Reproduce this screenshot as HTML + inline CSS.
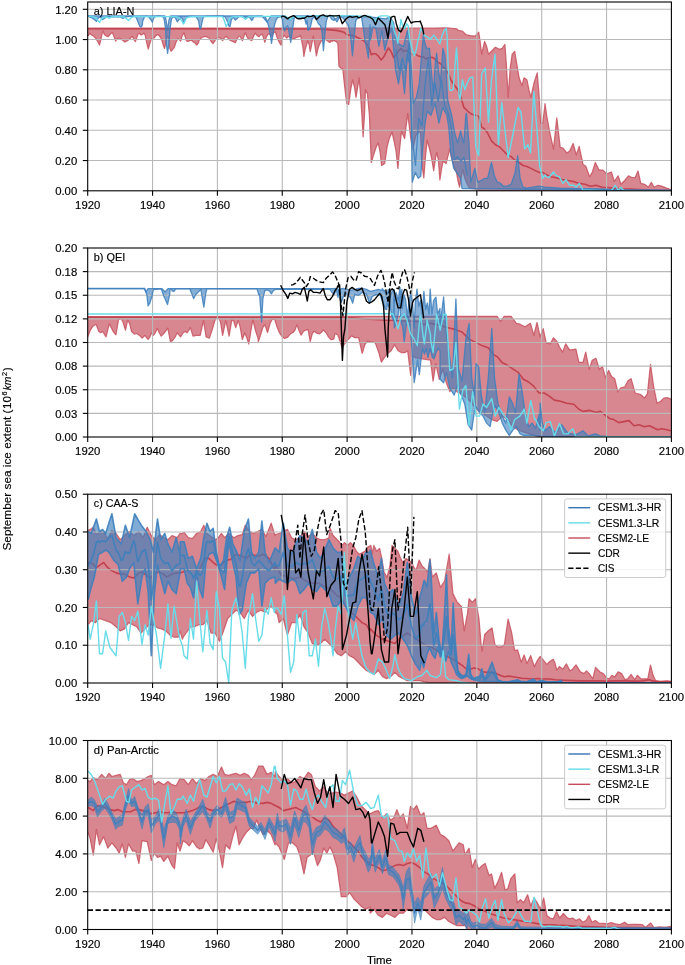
<!DOCTYPE html>
<html><head><meta charset="utf-8"><style>
html,body{margin:0;padding:0;background:#fff;}
svg{display:block;will-change:transform;font-family:"Liberation Sans",sans-serif;font-size:10.2px;}
text{stroke:#000;stroke-width:0.15px;}
</style></head><body>
<svg width="685" height="965" viewBox="0 0 685 965">
<rect width="685" height="965" fill="#ffffff"/>
<clipPath id="clipa"><rect x="87.7" y="2.0" width="583.6999999999999" height="188.8"/></clipPath>
<g clip-path="url(#clipa)"><polygon points="87.7,28.2 300.0,28.2 415.0,28.2 425.4,28.0 435.7,28.0 446.1,27.8 449.2,28.0 456.5,28.8 458.5,30.4 462.7,31.4 465.8,34.5 469.9,35.6 475.0,36.1 476.7,34.5 478.7,32.2 479.7,38.5 481.7,54.2 484.6,41.4 486.6,46.3 488.5,54.2 491.5,51.3 495.4,47.3 499.4,49.3 502.3,48.3 504.9,44.4 506.3,64.1 508.2,97.5 510.2,68.0 512.2,54.2 514.7,51.3 516.1,60.1 519.1,77.8 522.0,85.7 524.0,77.8 526.9,79.8 528.9,89.7 530.9,97.5 533.8,83.8 537.2,72.9 538.8,91.6 540.7,123.1 542.7,123.1 544.7,107.4 545.0,103.6 546.9,116.9 549.7,132.1 553.5,149.2 556.8,117.9 560.2,147.3 563.0,148.2 566.8,153.0 569.7,151.1 573.1,143.5 576.3,154.9 579.2,146.4 583.0,164.4 585.8,166.3 589.6,176.7 592.4,172.0 595.3,162.5 599.1,170.1 602.9,170.1 606.7,173.9 611.4,172.0 614.3,181.5 618.1,175.8 620.9,184.3 624.7,180.5 628.5,175.8 632.3,177.7 635.1,177.7 638.0,171.0 640.8,183.4 644.6,184.3 648.4,187.2 651.3,182.4 654.1,187.2 657.9,185.3 661.7,186.2 666.5,188.1 669.3,189.1 671.2,190.0 671.4,190.8 480.0,190.8 475.0,188.8 471.0,188.3 468.9,187.2 466.8,183.1 464.7,177.9 462.7,169.6 461.1,177.9 459.6,187.2 458.0,181.0 456.5,172.7 454.4,167.5 451.3,157.2 449.7,148.9 448.2,155.1 446.1,163.4 443.0,161.3 441.4,169.6 439.9,180.0 438.3,159.2 436.8,152.5 435.7,157.2 433.7,170.6 431.6,158.2 429.5,148.9 427.2,140.1 425.4,157.2 423.8,177.9 421.7,162.4 420.5,131.0 416.0,135.0 412.5,150.0 410.8,138.5 407.7,113.7 404.6,138.5 401.5,131.3 399.5,150.0 397.9,168.4 396.0,150.7 394.0,140.9 392.0,132.0 389.1,138.9 387.1,146.8 384.7,163.5 381.6,165.5 380.2,152.7 378.2,142.8 376.3,146.8 373.7,154.6 371.3,162.5 369.4,115.3 367.4,93.6 365.4,89.7 364.5,115.3 363.1,136.9 361.9,115.3 360.5,93.6 359.1,77.8 357.6,87.7 356.0,97.5 354.6,87.7 352.6,79.8 350.7,89.7 348.7,104.4 346.7,103.4 344.8,87.7 342.8,69.0 340.8,68.0 338.9,66.0 337.9,43.4 335.9,41.4 333.9,40.4 332.0,41.4 331.4,40.2 330.0,42.4 329.4,42.3 327.3,40.8 325.2,39.2 323.1,39.2 321.1,41.3 319.5,44.4 318.0,48.5 316.4,55.8 314.8,44.4 313.3,36.1 311.7,44.4 310.2,51.6 309.1,44.2 307.8,40.7 306.5,45.0 305.2,49.4 303.9,56.4 303.0,47.7 301.7,40.7 300.4,35.4 299.1,36.7 297.3,37.2 295.5,38.0 293.8,39.3 292.0,38.0 290.3,37.2 288.5,36.3 286.8,38.0 285.0,36.3 283.7,35.4 282.4,38.9 281.1,45.0 279.8,43.3 278.0,39.8 276.7,36.3 275.4,31.9 273.6,32.8 271.9,36.3 270.1,34.5 268.8,33.6 267.5,35.0 266.2,37.2 264.9,42.4 263.6,38.0 262.3,34.1 260.5,35.0 258.8,36.7 257.0,35.4 255.3,33.2 253.7,35.8 253.5,36.3 251.9,40.2 251.8,40.7 250.2,39.8 248.4,38.9 246.7,36.3 245.4,32.8 244.1,35.8 242.3,40.7 240.1,36.3 238.8,36.3 237.0,38.9 235.3,42.8 232.7,41.5 230.0,40.2 227.8,38.0 226.1,36.3 224.3,38.0 222.6,40.7 220.4,38.0 218.2,37.6 216.5,38.0 214.7,41.1 213.0,43.7 211.2,41.5 209.0,38.0 206.4,36.7 203.8,36.7 201.1,38.0 198.9,40.7 198.7,42.4 196.9,45.0 196.8,45.0 195.2,43.3 193.4,42.0 191.7,40.2 189.9,40.7 187.7,41.5 186.4,40.7 185.1,36.3 183.8,32.8 182.0,36.3 180.7,41.1 179.4,39.8 177.7,38.9 175.9,42.4 174.6,46.8 172.8,49.4 171.1,51.2 169.8,48.5 168.5,37.2 167.2,36.3 165.8,43.3 164.5,48.5 163.2,45.0 161.5,38.9 159.7,36.3 158.0,34.5 156.2,35.4 154.0,38.0 152.3,38.0 150.9,40.2 149.6,44.2 148.3,49.0 146.6,42.4 145.3,35.4 143.9,33.2 142.8,34.1 141.1,35.0 139.3,33.2 138.0,34.1 136.7,38.0 135.4,41.5 134.1,39.8 132.3,36.3 130.5,38.0 128.8,39.8 126.6,41.1 124.9,42.0 122.7,40.2 120.9,38.9 118.7,38.0 117.0,38.9 115.7,41.1 113.9,36.3 112.2,32.3 110.0,34.5 108.2,36.7 106.0,35.8 104.3,34.5 103.0,31.0 102.1,33.6 100.8,39.8 99.5,45.0 97.7,41.5 95.5,38.0 93.8,36.3 91.6,35.0 89.8,33.2 88.5,35.4 87.2,35.4" fill="#c64e5c" fill-opacity="0.68" stroke="#c64e5c" stroke-opacity="0.68" stroke-width="0.01" stroke-linejoin="round"/><polyline points="87.7,28.2 300.0,28.2 415.0,28.2 425.4,28.0 435.7,28.0 446.1,27.8 449.2,28.0 456.5,28.8 458.5,30.4 462.7,31.4 465.8,34.5 469.9,35.6 475.0,36.1 476.7,34.5 478.7,32.2 479.7,38.5 481.7,54.2 484.6,41.4 486.6,46.3 488.5,54.2 491.5,51.3 495.4,47.3 499.4,49.3 502.3,48.3 504.9,44.4 506.3,64.1 508.2,97.5 510.2,68.0 512.2,54.2 514.7,51.3 516.1,60.1 519.1,77.8 522.0,85.7 524.0,77.8 526.9,79.8 528.9,89.7 530.9,97.5 533.8,83.8 537.2,72.9 538.8,91.6 540.7,123.1 542.7,123.1 544.7,107.4 545.0,103.6 546.9,116.9 549.7,132.1 553.5,149.2 556.8,117.9 560.2,147.3 563.0,148.2 566.8,153.0 569.7,151.1 573.1,143.5 576.3,154.9 579.2,146.4 583.0,164.4 585.8,166.3 589.6,176.7 592.4,172.0 595.3,162.5 599.1,170.1 602.9,170.1 606.7,173.9 611.4,172.0 614.3,181.5 618.1,175.8 620.9,184.3 624.7,180.5 628.5,175.8 632.3,177.7 635.1,177.7 638.0,171.0 640.8,183.4 644.6,184.3 648.4,187.2 651.3,182.4 654.1,187.2 657.9,185.3 661.7,186.2 666.5,188.1 669.3,189.1 671.2,190.0" fill="none" stroke="#c64e5c" stroke-width="1.25" stroke-opacity="0.82" stroke-linejoin="round"/><polyline points="87.2,35.4 88.5,35.4 89.8,33.2 91.6,35.0 93.8,36.3 95.5,38.0 97.7,41.5 99.5,45.0 100.8,39.8 102.1,33.6 103.0,31.0 104.3,34.5 106.0,35.8 108.2,36.7 110.0,34.5 112.2,32.3 113.9,36.3 115.7,41.1 117.0,38.9 118.7,38.0 120.9,38.9 122.7,40.2 124.9,42.0 126.6,41.1 128.8,39.8 130.5,38.0 132.3,36.3 134.1,39.8 135.4,41.5 136.7,38.0 138.0,34.1 139.3,33.2 141.1,35.0 142.8,34.1 143.9,33.2 145.3,35.4 146.6,42.4 148.3,49.0 149.6,44.2 150.9,40.2 152.3,38.0 154.0,38.0 156.2,35.4 158.0,34.5 159.7,36.3 161.5,38.9 163.2,45.0 164.5,48.5 165.8,43.3 167.2,36.3 168.5,37.2 169.8,48.5 171.1,51.2 172.8,49.4 174.6,46.8 175.9,42.4 177.7,38.9 179.4,39.8 180.7,41.1 182.0,36.3 183.8,32.8 185.1,36.3 186.4,40.7 187.7,41.5 189.9,40.7 191.7,40.2 193.4,42.0 195.2,43.3 196.8,45.0 196.9,45.0 198.7,42.4 198.9,40.7 201.1,38.0 203.8,36.7 206.4,36.7 209.0,38.0 211.2,41.5 213.0,43.7 214.7,41.1 216.5,38.0 218.2,37.6 220.4,38.0 222.6,40.7 224.3,38.0 226.1,36.3 227.8,38.0 230.0,40.2 232.7,41.5 235.3,42.8 237.0,38.9 238.8,36.3 240.1,36.3 242.3,40.7 244.1,35.8 245.4,32.8 246.7,36.3 248.4,38.9 250.2,39.8 251.8,40.7 251.9,40.2 253.5,36.3 253.7,35.8 255.3,33.2 257.0,35.4 258.8,36.7 260.5,35.0 262.3,34.1 263.6,38.0 264.9,42.4 266.2,37.2 267.5,35.0 268.8,33.6 270.1,34.5 271.9,36.3 273.6,32.8 275.4,31.9 276.7,36.3 278.0,39.8 279.8,43.3 281.1,45.0 282.4,38.9 283.7,35.4 285.0,36.3 286.8,38.0 288.5,36.3 290.3,37.2 292.0,38.0 293.8,39.3 295.5,38.0 297.3,37.2 299.1,36.7 300.4,35.4 301.7,40.7 303.0,47.7 303.9,56.4 305.2,49.4 306.5,45.0 307.8,40.7 309.1,44.2 310.2,51.6 311.7,44.4 313.3,36.1 314.8,44.4 316.4,55.8 318.0,48.5 319.5,44.4 321.1,41.3 323.1,39.2 325.2,39.2 327.3,40.8 329.4,42.3 330.0,42.4 331.4,40.2 332.0,41.4 333.9,40.4 335.9,41.4 337.9,43.4 338.9,66.0 340.8,68.0 342.8,69.0 344.8,87.7 346.7,103.4 348.7,104.4 350.7,89.7 352.6,79.8 354.6,87.7 356.0,97.5 357.6,87.7 359.1,77.8 360.5,93.6 361.9,115.3 363.1,136.9 364.5,115.3 365.4,89.7 367.4,93.6 369.4,115.3 371.3,162.5 373.7,154.6 376.3,146.8 378.2,142.8 380.2,152.7 381.6,165.5 384.7,163.5 387.1,146.8 389.1,138.9 392.0,132.0 394.0,140.9 396.0,150.7 397.9,168.4 399.5,150.0 401.5,131.3 404.6,138.5 407.7,113.7 410.8,138.5 412.5,150.0 416.0,135.0 420.5,131.0 421.7,162.4 423.8,177.9 425.4,157.2 427.2,140.1 429.5,148.9 431.6,158.2 433.7,170.6 435.7,157.2 436.8,152.5 438.3,159.2 439.9,180.0 441.4,169.6 443.0,161.3 446.1,163.4 448.2,155.1 449.7,148.9 451.3,157.2 454.4,167.5 456.5,172.7 458.0,181.0 459.6,187.2 461.1,177.9 462.7,169.6 464.7,177.9 466.8,183.1 468.9,187.2 471.0,188.3 475.0,188.8 480.0,190.8 671.4,190.8" fill="none" stroke="#c64e5c" stroke-width="1.25" stroke-opacity="0.82" stroke-linejoin="round"/><polyline points="87.7,28.7 320.0,29.0 330.9,29.9 336.1,30.4 341.3,31.4 344.4,32.5 346.5,34.5 349.6,35.1 352.7,35.6 355.8,36.6 358.9,38.2 362.0,39.7 363.1,40.2 366.2,43.3 369.3,48.5 371.4,54.7 373.5,53.7 375.5,53.7 378.1,55.8 381.2,59.9 383.8,56.8 386.4,51.6 388.5,48.0 391.1,51.6 393.7,57.8 396.3,54.7 398.9,50.6 400.9,48.5 403.5,51.6 406.1,50.6 408.7,51.6 411.8,54.7 414.9,53.7 418.0,55.8 420.7,56.8 423.3,56.8 425.9,58.9 428.5,57.8 432.1,57.3 434.7,58.9 437.3,62.0 440.4,63.5 443.5,67.2 446.1,69.8 448.2,73.4 450.8,79.6 453.3,83.8 456.5,87.9 459.6,93.1 463.9,107.4 467.9,111.3 471.8,114.3 475.8,115.3 478.7,116.2 481.7,127.1 484.6,129.0 487.6,133.0 491.5,140.9 495.4,144.8 499.4,146.8 503.3,150.7 507.3,154.6 511.2,156.6 515.1,160.5 519.1,162.5 523.0,165.5 526.9,166.5 530.9,168.4 534.8,170.4 538.8,172.4 542.7,172.4 545.0,173.9 550.7,176.7 556.4,177.7 562.1,179.6 567.8,180.5 573.5,181.5 579.2,183.4 584.9,184.3 590.5,186.2 596.2,185.3 601.9,187.2 607.6,187.5 613.3,188.1 620.9,188.7 630.4,189.1 639.9,189.6 651.3,190.0 671.2,190.2" fill="none" stroke="#c3424f" stroke-width="1.6" stroke-opacity="1" stroke-linejoin="round"/><polygon points="87.7,15.8 165.0,16.0 166.0,20.0 167.5,30.0 169.0,20.0 170.5,16.0 262.0,16.0 267.0,22.0 271.0,16.0 285.0,16.0 290.0,20.0 294.0,16.0 333.0,16.0 337.0,22.0 340.0,16.0 370.0,16.8 377.9,17.8 385.8,18.8 389.7,16.8 393.6,22.7 395.6,38.5 399.5,44.4 403.5,46.3 407.4,30.6 409.4,40.4 411.3,68.0 413.3,103.4 416.3,97.5 419.2,83.8 423.3,35.0 424.8,42.6 426.7,48.4 429.5,48.4 431.4,72.2 433.3,93.2 435.3,62.7 436.7,53.1 438.6,72.2 440.5,81.7 442.9,48.4 444.8,55.0 446.2,72.2 447.6,100.0 451.7,115.3 454.7,133.0 457.6,142.8 460.6,131.0 463.5,142.8 463.9,142.8 465.9,114.3 466.5,113.3 468.9,142.8 470.8,182.2 474.8,168.4 477.7,182.2 481.7,180.2 484.6,178.3 487.6,178.3 491.5,162.5 494.5,176.3 497.4,182.2 500.4,183.2 503.3,186.1 507.3,186.1 511.2,184.2 515.1,172.4 517.7,155.6 520.1,178.3 523.0,187.1 526.9,188.1 538.8,186.1 544.7,187.1 560.0,188.1 600.0,189.0 620.0,190.0 671.4,190.3 671.4,190.4 600.0,190.0 462.0,188.5 460.6,178.3 456.6,172.4 453.7,168.4 450.7,152.7 448.8,127.1 446.8,115.3 442.8,107.4 438.9,123.1 435.0,103.4 431.0,115.3 427.1,111.3 425.1,123.1 422.2,154.6 420.8,176.3 418.2,178.3 415.3,172.4 412.3,182.2 411.3,123.1 409.4,64.1 407.4,54.2 404.5,93.6 401.5,64.1 398.5,83.8 395.6,70.0 391.7,28.6 387.7,38.5 384.8,50.3 381.8,30.6 378.9,46.3 375.9,28.6 373.0,26.7 370.5,40.0 370.0,24.7 368.4,58.0 365.0,40.0 362.0,20.0 361.5,16.4 359.9,16.4 357.8,18.0 355.8,20.5 354.2,36.1 352.5,55.8 350.6,36.1 348.5,25.7 346.5,22.6 344.4,19.5 342.3,17.4 340.2,16.4 338.2,16.9 336.1,18.5 334.0,20.5 331.9,19.5 329.9,16.4 327.8,16.4 326.2,21.6 324.7,36.1 323.4,50.6 322.1,31.9 320.5,25.7 318.5,23.7 316.4,19.5 314.3,17.4 312.3,18.5 310.7,25.7 309.1,29.9 307.8,30.1 307.1,20.5 306.1,24.0 304.3,17.0 295.5,17.0 294.2,17.9 293.4,23.1 292.0,33.6 290.7,42.4 289.4,33.6 287.7,25.8 285.9,27.5 284.6,31.0 283.3,27.5 282.4,19.6 281.1,16.6 277.6,17.4 276.3,19.6 274.5,24.9 272.8,35.4 271.5,43.3 270.6,36.3 268.8,26.6 266.6,19.6 264.9,16.6 258.8,16.3 255.3,16.6 253.5,17.0 252.8,19.2 251.8,20.5 251.5,20.1 250.0,17.9 249.7,17.4 247.6,17.0 245.8,17.9 244.1,16.6 241.4,16.3 238.8,16.6 237.0,18.8 235.3,20.1 233.1,17.0 231.4,19.6 230.0,26.6 228.7,25.8 227.0,20.5 225.2,17.0 223.0,16.1 216.9,16.1 205.5,16.3 203.3,17.0 202.0,22.3 200.7,28.8 199.8,28.4 199.1,24.0 198.5,20.5 197.8,19.6 196.1,16.6 192.6,16.3 189.1,16.3 186.9,17.0 185.1,19.6 183.8,23.1 182.5,18.8 180.7,17.0 179.0,19.6 177.2,21.8 175.5,17.9 173.3,16.6 171.5,18.8 170.2,27.5 168.9,43.3 167.6,53.4 166.3,43.3 165.4,27.5 164.1,18.8 162.8,16.6 160.1,16.1 157.5,16.1 155.3,16.6 153.6,18.3 152.3,22.3 150.9,19.6 148.8,17.0 146.1,16.1 144.4,17.0 142.6,21.4 142.4,24.9 141.1,27.1 139.7,26.2 138.4,23.1 137.1,19.6 135.8,17.0 134.1,16.3 130.5,16.3 127.9,16.6 125.3,17.0 123.5,18.3 121.8,17.9 120.0,16.6 118.3,17.0 115.7,16.6 113.0,17.0 110.4,16.6 107.8,16.6 105.6,17.4 103.8,18.8 102.5,19.6 101.2,17.9 99.5,17.0 97.7,18.8 96.4,21.4 95.5,20.5 93.8,19.2 92.0,17.9 90.3,17.4 88.5,16.1 87.2,16.1" fill="#3c80be" fill-opacity="0.58" stroke="#3c80be" stroke-opacity="0.58" stroke-width="0.01" stroke-linejoin="round"/></g>
<g stroke="#b9b9b9" stroke-width="1.1"><line x1="152.56" y1="2.0" x2="152.56" y2="190.8"/><line x1="217.41" y1="2.0" x2="217.41" y2="190.8"/><line x1="282.27" y1="2.0" x2="282.27" y2="190.8"/><line x1="347.12" y1="2.0" x2="347.12" y2="190.8"/><line x1="411.98" y1="2.0" x2="411.98" y2="190.8"/><line x1="476.83" y1="2.0" x2="476.83" y2="190.8"/><line x1="541.69" y1="2.0" x2="541.69" y2="190.8"/><line x1="606.54" y1="2.0" x2="606.54" y2="190.8"/><line x1="87.7" y1="160.55" x2="671.4" y2="160.55"/><line x1="87.7" y1="130.30" x2="671.4" y2="130.30"/><line x1="87.7" y1="100.05" x2="671.4" y2="100.05"/><line x1="87.7" y1="69.80" x2="671.4" y2="69.80"/><line x1="87.7" y1="39.55" x2="671.4" y2="39.55"/><line x1="87.7" y1="9.30" x2="671.4" y2="9.30"/></g>
<g clip-path="url(#clipa)"><polyline points="87.7,15.8 165.0,16.0 166.0,20.0 167.5,30.0 169.0,20.0 170.5,16.0 262.0,16.0 267.0,22.0 271.0,16.0 285.0,16.0 290.0,20.0 294.0,16.0 333.0,16.0 337.0,22.0 340.0,16.0 370.0,16.8 377.9,17.8 385.8,18.8 389.7,16.8 393.6,22.7 395.6,38.5 399.5,44.4 403.5,46.3 407.4,30.6 409.4,40.4 411.3,68.0 413.3,103.4 416.3,97.5 419.2,83.8 423.3,35.0 424.8,42.6 426.7,48.4 429.5,48.4 431.4,72.2 433.3,93.2 435.3,62.7 436.7,53.1 438.6,72.2 440.5,81.7 442.9,48.4 444.8,55.0 446.2,72.2 447.6,100.0 451.7,115.3 454.7,133.0 457.6,142.8 460.6,131.0 463.5,142.8 463.9,142.8 465.9,114.3 466.5,113.3 468.9,142.8 470.8,182.2 474.8,168.4 477.7,182.2 481.7,180.2 484.6,178.3 487.6,178.3 491.5,162.5 494.5,176.3 497.4,182.2 500.4,183.2 503.3,186.1 507.3,186.1 511.2,184.2 515.1,172.4 517.7,155.6 520.1,178.3 523.0,187.1 526.9,188.1 538.8,186.1 544.7,187.1 560.0,188.1 600.0,189.0 620.0,190.0 671.4,190.3" fill="none" stroke="#3d7fbd" stroke-width="1.3" stroke-opacity="0.85" stroke-linejoin="round"/><polyline points="87.2,16.1 88.5,16.1 90.3,17.4 92.0,17.9 93.8,19.2 95.5,20.5 96.4,21.4 97.7,18.8 99.5,17.0 101.2,17.9 102.5,19.6 103.8,18.8 105.6,17.4 107.8,16.6 110.4,16.6 113.0,17.0 115.7,16.6 118.3,17.0 120.0,16.6 121.8,17.9 123.5,18.3 125.3,17.0 127.9,16.6 130.5,16.3 134.1,16.3 135.8,17.0 137.1,19.6 138.4,23.1 139.7,26.2 141.1,27.1 142.4,24.9 142.6,21.4 144.4,17.0 146.1,16.1 148.8,17.0 150.9,19.6 152.3,22.3 153.6,18.3 155.3,16.6 157.5,16.1 160.1,16.1 162.8,16.6 164.1,18.8 165.4,27.5 166.3,43.3 167.6,53.4 168.9,43.3 170.2,27.5 171.5,18.8 173.3,16.6 175.5,17.9 177.2,21.8 179.0,19.6 180.7,17.0 182.5,18.8 183.8,23.1 185.1,19.6 186.9,17.0 189.1,16.3 192.6,16.3 196.1,16.6 197.8,19.6 198.5,20.5 199.1,24.0 199.8,28.4 200.7,28.8 202.0,22.3 203.3,17.0 205.5,16.3 216.9,16.1 223.0,16.1 225.2,17.0 227.0,20.5 228.7,25.8 230.0,26.6 231.4,19.6 233.1,17.0 235.3,20.1 237.0,18.8 238.8,16.6 241.4,16.3 244.1,16.6 245.8,17.9 247.6,17.0 249.7,17.4 250.0,17.9 251.5,20.1 251.8,20.5 252.8,19.2 253.5,17.0 255.3,16.6 258.8,16.3 264.9,16.6 266.6,19.6 268.8,26.6 270.6,36.3 271.5,43.3 272.8,35.4 274.5,24.9 276.3,19.6 277.6,17.4 281.1,16.6 282.4,19.6 283.3,27.5 284.6,31.0 285.9,27.5 287.7,25.8 289.4,33.6 290.7,42.4 292.0,33.6 293.4,23.1 294.2,17.9 295.5,17.0 304.3,17.0 306.1,24.0 307.1,20.5 307.8,30.1 309.1,29.9 310.7,25.7 312.3,18.5 314.3,17.4 316.4,19.5 318.5,23.7 320.5,25.7 322.1,31.9 323.4,50.6 324.7,36.1 326.2,21.6 327.8,16.4 329.9,16.4 331.9,19.5 334.0,20.5 336.1,18.5 338.2,16.9 340.2,16.4 342.3,17.4 344.4,19.5 346.5,22.6 348.5,25.7 350.6,36.1 352.5,55.8 354.2,36.1 355.8,20.5 357.8,18.0 359.9,16.4 361.5,16.4 362.0,20.0 365.0,40.0 368.4,58.0 370.0,24.7 370.5,40.0 373.0,26.7 375.9,28.6 378.9,46.3 381.8,30.6 384.8,50.3 387.7,38.5 391.7,28.6 395.6,70.0 398.5,83.8 401.5,64.1 404.5,93.6 407.4,54.2 409.4,64.1 411.3,123.1 412.3,182.2 415.3,172.4 418.2,178.3 420.8,176.3 422.2,154.6 425.1,123.1 427.1,111.3 431.0,115.3 435.0,103.4 438.9,123.1 442.8,107.4 446.8,115.3 448.8,127.1 450.7,152.7 453.7,168.4 456.6,172.4 460.6,178.3 462.0,188.5 600.0,190.0 671.4,190.4" fill="none" stroke="#3d7fbd" stroke-width="1.3" stroke-opacity="0.85" stroke-linejoin="round"/><polyline points="396.0,48.9 399.2,70.3 402.5,58.5 405.7,70.7 409.0,43.1 412.2,138.6 415.5,165.3 418.7,118.3 421.9,126.2 425.2,83.3 428.4,58.0 431.7,105.7 434.9,82.6 438.2,101.3 441.4,80.2 444.6,105.3 447.9,112.5 451.1,125.6 454.4,159.8 457.6,156.8 460.9,161.1 464.1,157.3 467.3,175.7" fill="none" stroke="#3d7fbd" stroke-width="1.3" stroke-opacity="0.85" stroke-linejoin="round"/><polyline points="88.5,16.1 91.1,16.6 93.8,17.0 96.4,18.3 98.1,20.9 99.5,22.3 100.8,20.1 102.5,17.9 105.1,17.0 107.3,17.0 109.1,18.3 110.4,17.4 112.2,16.6 115.7,16.6 118.3,16.6 121.8,16.8 124.4,17.0 126.6,18.8 128.4,20.5 129.7,19.2 131.4,17.4 134.1,16.6 137.6,16.3 141.1,16.6 148.8,16.6 152.3,17.0 155.8,16.6 160.1,16.6 164.5,16.6 168.9,16.6 173.3,16.6 176.8,17.0 179.4,17.9 181.6,20.5 183.4,24.0 184.7,21.4 186.4,17.9 189.1,17.0 192.6,16.8 196.9,16.6 200.0,16.6 216.9,16.6 222.2,16.6 223.5,18.3 224.8,22.3 226.1,26.6 227.4,24.0 229.2,19.6 230.9,17.4 233.5,16.6 242.3,16.6 244.1,17.9 245.4,19.2 247.1,17.9 249.3,16.6 255.0,16.4 285.0,16.4 288.5,17.9 290.3,20.1 291.6,18.3 293.8,16.6 310.0,16.6 310.2,15.9 356.8,15.9 360.0,16.4 366.2,15.9 370.4,16.4 373.5,19.5 375.5,21.6 377.6,17.4 380.7,15.9 384.9,15.9 388.0,15.9 390.1,19.5 392.1,21.6 394.2,30.9 396.3,36.1 397.8,43.3 399.4,31.9 400.9,19.5 402.5,25.7 404.6,28.8 406.6,23.7 408.2,25.7 409.7,39.2 411.8,48.5 414.4,55.8 416.5,48.5 418.1,39.2 418.5,39.2 420.7,28.3 422.8,31.9 424.3,35.1 427.4,37.1 430.5,39.2 433.7,35.1 436.8,39.2 439.9,43.9 441.9,36.1 444.0,30.9 446.1,28.3 447.1,36.1 448.2,67.2 449.7,90.0 451.8,90.5 453.3,88.9 454.9,67.2 456.5,48.0 457.5,62.0 459.0,95.2 460.0,99.5 462.4,79.8 464.9,89.7 466.9,83.8 469.8,77.8 472.8,76.9 475.8,146.8 478.7,155.6 481.7,73.9 485.2,68.0 488.5,122.2 491.5,79.8 495.0,54.2 498.4,144.8 501.7,102.5 505.3,133.0 508.2,157.6 513.2,133.0 518.1,107.4 521.0,112.3 524.6,148.7 527.9,144.8 530.5,152.7 533.8,91.6 536.8,127.1 539.7,166.5 542.7,178.3 545.0,174.8 545.6,176.3 548.8,177.7 553.5,172.0 556.4,175.8 559.2,176.7 563.0,183.4 565.9,179.6 569.7,185.3 573.5,185.3 576.3,187.2 579.2,183.4 583.0,190.0 601.9,190.6 611.4,190.6 615.2,185.3 618.1,190.0 620.9,187.5 623.8,190.6 671.2,190.6" fill="none" stroke="#66dcea" stroke-width="1.4" stroke-opacity="1" stroke-linejoin="round"/><polyline points="281.1,17.0 282.8,16.1 284.6,16.6 286.4,17.9 287.7,18.8 289.4,17.4 291.2,16.6 293.4,15.7 295.1,16.6 296.9,18.3 298.6,18.8 300.4,18.8 302.6,18.3 304.3,18.3 306.1,17.0 307.4,16.1 308.7,16.6 311.7,16.4 313.3,15.4 314.8,16.4 316.4,19.5 318.0,18.0 320.0,15.9 323.1,14.8 325.2,15.9 327.3,16.4 329.9,15.4 332.5,15.9 335.1,15.9 337.1,15.9 339.2,15.4 340.8,19.5 342.3,23.7 343.9,21.6 345.9,19.0 348.0,17.4 350.1,16.4 352.2,17.4 354.2,16.9 356.8,16.4 358.9,18.0 361.0,16.9 363.0,15.9 364.7,15.4 367.3,16.4 370.4,17.4 373.0,19.5 375.5,24.7 378.1,18.0 380.2,20.0 382.3,22.1 384.9,24.7 386.4,30.4 388.0,38.2 389.5,25.7 391.1,17.4 393.2,16.4 394.7,16.4 396.3,23.7 398.3,29.9 400.9,31.9 403.0,27.8 405.6,21.6 407.7,16.4 409.7,20.5 411.3,23.1 412.8,22.1 416.0,21.6 419.1,21.6 420.2,21.1 422.3,26.8 423.8,34.5" fill="none" stroke="#000" stroke-width="1.4" stroke-opacity="1" stroke-linejoin="round"/></g>
<rect x="87.7" y="2.0" width="583.6999999999999" height="188.8" fill="none" stroke="#000" stroke-width="1.1"/>
<g stroke="#000" stroke-width="1.1"><line x1="87.70" y1="190.8" x2="87.70" y2="195.70"/><line x1="152.56" y1="190.8" x2="152.56" y2="195.70"/><line x1="217.41" y1="190.8" x2="217.41" y2="195.70"/><line x1="282.27" y1="190.8" x2="282.27" y2="195.70"/><line x1="347.12" y1="190.8" x2="347.12" y2="195.70"/><line x1="411.98" y1="190.8" x2="411.98" y2="195.70"/><line x1="476.83" y1="190.8" x2="476.83" y2="195.70"/><line x1="541.69" y1="190.8" x2="541.69" y2="195.70"/><line x1="606.54" y1="190.8" x2="606.54" y2="195.70"/><line x1="671.40" y1="190.8" x2="671.40" y2="195.70"/><line x1="82.80" y1="190.80" x2="87.7" y2="190.80"/><line x1="82.80" y1="160.55" x2="87.7" y2="160.55"/><line x1="82.80" y1="130.30" x2="87.7" y2="130.30"/><line x1="82.80" y1="100.05" x2="87.7" y2="100.05"/><line x1="82.80" y1="69.80" x2="87.7" y2="69.80"/><line x1="82.80" y1="39.55" x2="87.7" y2="39.55"/><line x1="82.80" y1="9.30" x2="87.7" y2="9.30"/></g>
<g fill="#000"><text x="87.70" y="209.00" text-anchor="middle" textLength="25.19" lengthAdjust="spacingAndGlyphs" >1920</text><text x="152.56" y="209.00" text-anchor="middle" textLength="25.19" lengthAdjust="spacingAndGlyphs" >1940</text><text x="217.41" y="209.00" text-anchor="middle" textLength="25.19" lengthAdjust="spacingAndGlyphs" >1960</text><text x="282.27" y="209.00" text-anchor="middle" textLength="25.19" lengthAdjust="spacingAndGlyphs" >1980</text><text x="347.12" y="209.00" text-anchor="middle" textLength="25.19" lengthAdjust="spacingAndGlyphs" >2000</text><text x="411.98" y="209.00" text-anchor="middle" textLength="25.19" lengthAdjust="spacingAndGlyphs" >2020</text><text x="476.83" y="209.00" text-anchor="middle" textLength="25.19" lengthAdjust="spacingAndGlyphs" >2040</text><text x="541.69" y="209.00" text-anchor="middle" textLength="25.19" lengthAdjust="spacingAndGlyphs" >2060</text><text x="606.54" y="209.00" text-anchor="middle" textLength="25.19" lengthAdjust="spacingAndGlyphs" >2080</text><text x="671.40" y="209.00" text-anchor="middle" textLength="25.19" lengthAdjust="spacingAndGlyphs" >2100</text><text x="77.20" y="195.00" text-anchor="end" textLength="22.04" lengthAdjust="spacingAndGlyphs" >0.00</text><text x="77.20" y="164.75" text-anchor="end" textLength="22.04" lengthAdjust="spacingAndGlyphs" >0.20</text><text x="77.20" y="134.50" text-anchor="end" textLength="22.04" lengthAdjust="spacingAndGlyphs" >0.40</text><text x="77.20" y="104.25" text-anchor="end" textLength="22.04" lengthAdjust="spacingAndGlyphs" >0.60</text><text x="77.20" y="74.00" text-anchor="end" textLength="22.04" lengthAdjust="spacingAndGlyphs" >0.80</text><text x="77.20" y="43.75" text-anchor="end" textLength="22.04" lengthAdjust="spacingAndGlyphs" >1.00</text><text x="77.20" y="13.50" text-anchor="end" textLength="22.04" lengthAdjust="spacingAndGlyphs" >1.20</text><text x="93.80" y="15.20" text-anchor="start" textLength="40.62" lengthAdjust="spacingAndGlyphs" font-size="10.6" >a) LIA-N</text></g>
<clipPath id="clipb"><rect x="87.7" y="248.0" width="583.6999999999999" height="189.0"/></clipPath>
<g clip-path="url(#clipb)"><polygon points="87.7,316.7 420.0,316.3 437.5,316.3 455.0,316.3 472.6,316.3 497.1,316.3 500.6,321.5 504.1,316.3 511.1,316.3 516.4,323.3 519.9,324.2 525.1,326.8 530.4,323.3 533.9,335.5 535.0,330.7 537.0,322.5 540.1,336.8 543.2,328.6 546.2,342.9 550.3,343.9 553.4,337.8 556.5,340.9 559.5,347.0 562.6,352.1 565.7,343.9 569.7,350.1 575.9,349.1 578.9,362.3 583.0,362.3 585.7,352.1 589.2,369.5 592.2,360.3 595.9,358.2 599.4,369.5 602.4,366.4 605.5,377.7 608.6,370.5 611.6,376.6 614.7,378.7 617.8,392.0 620.8,387.9 624.9,386.9 628.0,380.7 631.1,378.7 635.1,393.0 639.2,394.0 641.3,395.0 644.3,398.1 647.4,394.0 650.5,364.4 653.5,385.8 657.0,403.2 660.7,401.2 663.8,398.1 667.8,397.7 670.9,399.1 678.1,400.1 680.0,437.0 545.0,437.0 540.0,436.5 533.9,435.4 528.6,433.6 523.4,431.9 518.1,430.1 512.8,426.6 507.6,419.6 502.3,416.1 497.1,421.4 491.8,419.6 486.6,416.1 481.3,412.6 476.1,409.1 470.8,402.1 465.5,396.9 460.3,393.4 456.8,391.6 453.3,388.1 449.8,391.6 446.3,382.8 442.8,368.8 439.3,379.3 435.8,363.6 433.1,381.1 430.5,360.1 415.6,357.8 413.0,356.1 410.7,375.3 407.7,350.8 405.1,352.6 401.6,352.6 398.1,350.8 394.6,344.7 391.1,350.8 387.6,353.4 384.1,357.8 381.4,362.2 378.8,352.6 375.3,342.9 371.8,342.0 367.4,341.2 364.8,344.7 362.2,353.4 358.6,337.7 355.1,337.7 351.6,335.9 347.3,340.3 344.6,343.8 342.0,347.3 338.5,336.8 337.8,335.1 335.8,333.8 335.0,333.3 333.8,339.1 331.2,339.7 328.6,337.1 325.9,332.5 323.3,329.9 321.4,332.5 319.4,333.8 316.8,333.2 314.1,331.2 312.2,333.8 310.2,341.7 308.2,329.9 306.2,329.9 303.6,331.2 301.0,335.1 299.0,330.5 297.0,324.6 295.1,329.9 293.1,332.5 290.5,333.8 287.8,337.1 284.6,338.4 281.9,336.5 279.3,332.5 276.7,325.9 274.7,319.4 272.1,319.4 270.1,323.3 267.5,332.5 264.9,324.6 262.9,327.3 260.9,333.8 258.3,341.7 258.0,338.1 255.4,330.2 252.8,319.7 250.8,331.5 248.8,344.0 246.9,338.1 244.9,332.8 242.3,339.4 240.3,327.6 238.3,320.3 235.7,327.6 233.7,321.0 231.8,319.7 229.1,336.1 225.8,320.3 222.6,335.4 220.6,322.3 218.6,317.0 216.6,317.0 214.7,321.0 212.0,330.2 209.4,338.1 206.1,336.8 203.5,320.3 200.2,335.4 196.3,335.4 193.0,336.1 190.4,327.6 187.1,332.8 185.1,331.5 183.1,332.8 180.5,336.8 177.2,332.8 175.3,336.8 173.0,340.0 172.6,340.7 170.4,341.4 167.8,328.2 163.8,333.5 161.2,336.1 159.2,332.8 157.3,328.2 155.3,332.8 153.3,335.4 151.4,332.8 150.0,336.8 148.1,339.4 144.8,335.4 142.2,338.1 139.5,335.4 136.9,333.5 134.3,334.1 131.6,331.5 129.7,323.6 127.7,319.7 125.5,330.2 123.1,322.3 121.1,318.4 118.5,319.7 115.9,334.8 113.2,331.5 111.3,327.6 109.3,323.6 106.0,336.8 102.7,331.5 100.8,332.8 98.8,331.5 96.2,324.3 92.9,326.2 90.3,330.2 88.3,335.4 87.6,337.4" fill="#c64e5c" fill-opacity="0.68" stroke="#c64e5c" stroke-opacity="0.68" stroke-width="0.01" stroke-linejoin="round"/><polyline points="87.7,316.7 420.0,316.3 437.5,316.3 455.0,316.3 472.6,316.3 497.1,316.3 500.6,321.5 504.1,316.3 511.1,316.3 516.4,323.3 519.9,324.2 525.1,326.8 530.4,323.3 533.9,335.5 535.0,330.7 537.0,322.5 540.1,336.8 543.2,328.6 546.2,342.9 550.3,343.9 553.4,337.8 556.5,340.9 559.5,347.0 562.6,352.1 565.7,343.9 569.7,350.1 575.9,349.1 578.9,362.3 583.0,362.3 585.7,352.1 589.2,369.5 592.2,360.3 595.9,358.2 599.4,369.5 602.4,366.4 605.5,377.7 608.6,370.5 611.6,376.6 614.7,378.7 617.8,392.0 620.8,387.9 624.9,386.9 628.0,380.7 631.1,378.7 635.1,393.0 639.2,394.0 641.3,395.0 644.3,398.1 647.4,394.0 650.5,364.4 653.5,385.8 657.0,403.2 660.7,401.2 663.8,398.1 667.8,397.7 670.9,399.1 678.1,400.1" fill="none" stroke="#c64e5c" stroke-width="1.25" stroke-opacity="0.82" stroke-linejoin="round"/><polyline points="87.6,337.4 88.3,335.4 90.3,330.2 92.9,326.2 96.2,324.3 98.8,331.5 100.8,332.8 102.7,331.5 106.0,336.8 109.3,323.6 111.3,327.6 113.2,331.5 115.9,334.8 118.5,319.7 121.1,318.4 123.1,322.3 125.5,330.2 127.7,319.7 129.7,323.6 131.6,331.5 134.3,334.1 136.9,333.5 139.5,335.4 142.2,338.1 144.8,335.4 148.1,339.4 150.0,336.8 151.4,332.8 153.3,335.4 155.3,332.8 157.3,328.2 159.2,332.8 161.2,336.1 163.8,333.5 167.8,328.2 170.4,341.4 172.6,340.7 173.0,340.0 175.3,336.8 177.2,332.8 180.5,336.8 183.1,332.8 185.1,331.5 187.1,332.8 190.4,327.6 193.0,336.1 196.3,335.4 200.2,335.4 203.5,320.3 206.1,336.8 209.4,338.1 212.0,330.2 214.7,321.0 216.6,317.0 218.6,317.0 220.6,322.3 222.6,335.4 225.8,320.3 229.1,336.1 231.8,319.7 233.7,321.0 235.7,327.6 238.3,320.3 240.3,327.6 242.3,339.4 244.9,332.8 246.9,338.1 248.8,344.0 250.8,331.5 252.8,319.7 255.4,330.2 258.0,338.1 258.3,341.7 260.9,333.8 262.9,327.3 264.9,324.6 267.5,332.5 270.1,323.3 272.1,319.4 274.7,319.4 276.7,325.9 279.3,332.5 281.9,336.5 284.6,338.4 287.8,337.1 290.5,333.8 293.1,332.5 295.1,329.9 297.0,324.6 299.0,330.5 301.0,335.1 303.6,331.2 306.2,329.9 308.2,329.9 310.2,341.7 312.2,333.8 314.1,331.2 316.8,333.2 319.4,333.8 321.4,332.5 323.3,329.9 325.9,332.5 328.6,337.1 331.2,339.7 333.8,339.1 335.0,333.3 335.8,333.8 337.8,335.1 338.5,336.8 342.0,347.3 344.6,343.8 347.3,340.3 351.6,335.9 355.1,337.7 358.6,337.7 362.2,353.4 364.8,344.7 367.4,341.2 371.8,342.0 375.3,342.9 378.8,352.6 381.4,362.2 384.1,357.8 387.6,353.4 391.1,350.8 394.6,344.7 398.1,350.8 401.6,352.6 405.1,352.6 407.7,350.8 410.7,375.3 413.0,356.1 415.6,357.8 430.5,360.1 433.1,381.1 435.8,363.6 439.3,379.3 442.8,368.8 446.3,382.8 449.8,391.6 453.3,388.1 456.8,391.6 460.3,393.4 465.5,396.9 470.8,402.1 476.1,409.1 481.3,412.6 486.6,416.1 491.8,419.6 497.1,421.4 502.3,416.1 507.6,419.6 512.8,426.6 518.1,430.1 523.4,431.9 528.6,433.6 533.9,435.4 540.0,436.5 545.0,437.0 680.0,437.0" fill="none" stroke="#c64e5c" stroke-width="1.25" stroke-opacity="0.82" stroke-linejoin="round"/><polyline points="87.7,317.3 352.5,317.9 370.0,319.3 387.6,320.1 405.1,321.0 420.0,321.5 422.6,324.5 430.5,323.3 441.0,325.9 448.0,327.7 455.0,329.4 462.0,332.0 469.1,339.1 476.1,342.6 483.1,346.1 488.3,347.8 493.6,354.8 497.1,356.6 502.3,362.7 507.6,365.3 512.8,368.8 518.1,372.3 523.4,379.3 528.6,382.0 533.9,386.4 535.0,387.9 539.1,393.0 544.2,393.0 549.3,396.1 554.4,400.1 560.5,401.2 566.7,403.2 573.8,404.2 578.9,409.3 583.0,411.4 590.2,410.4 596.3,412.4 600.4,411.4 605.5,415.5 609.6,418.5 613.7,419.6 618.8,422.6 623.9,421.6 629.0,420.6 634.1,425.7 639.2,424.7 644.3,426.7 649.5,425.7 653.5,427.7 657.6,429.8 661.7,428.8 666.8,429.8 670.9,430.8 678.1,431.2" fill="none" stroke="#c3424f" stroke-width="1.6" stroke-opacity="1" stroke-linejoin="round"/><polygon points="87.7,288.6 144.0,288.6 146.0,292.0 148.0,288.6 162.0,288.6 165.0,292.0 168.0,288.6 334.0,288.6 335.0,288.4 338.9,289.4 342.9,288.4 346.8,289.4 350.8,290.4 354.7,289.4 358.6,288.4 362.6,288.4 366.5,289.4 370.4,291.3 374.4,290.4 378.3,289.4 382.3,290.4 382.3,288.5 384.2,291.3 384.6,290.3 386.2,295.3 386.3,294.8 388.0,291.4 388.2,289.4 390.3,297.1 392.0,291.4 394.1,289.4 394.2,302.8 396.0,292.5 398.2,300.5 400.0,287.4 400.5,297.1 401.9,289.4 402.2,308.5 403.9,294.8 405.6,299.4 407.4,317.6 409.1,300.5 410.8,293.7 412.5,302.8 414.2,327.9 415.3,302.8 417.0,289.1 418.8,306.2 420.5,300.5 422.2,314.2 423.9,291.4 425.6,309.6 427.3,302.8 429.0,314.2 430.2,289.1 431.9,314.2 433.6,300.5 435.9,297.1 437.6,314.2 440.0,308.5 440.1,325.0 443.6,297.0 446.3,333.8 448.9,351.3 452.4,377.6 455.9,298.8 458.5,368.8 462.0,381.1 465.9,339.1 469.1,323.3 471.7,377.6 474.3,395.1 476.1,363.6 478.7,367.1 481.3,395.1 484.8,412.6 488.3,377.6 491.8,328.5 494.5,377.6 498.0,403.9 502.3,416.1 505.8,423.1 509.3,396.9 512.8,403.9 515.5,412.6 519.0,374.1 521.6,388.1 525.1,412.6 528.6,426.6 532.1,423.1 535.6,428.4 539.1,414.5 540.0,430.1 540.1,403.2 542.2,422.6 545.2,430.8 549.3,426.7 555.4,432.8 561.6,424.7 567.7,432.8 575.9,434.9 583.0,430.8 588.1,435.9 595.3,433.9 600.4,435.9 608.6,436.7 678.1,436.7 680.0,437.0 560.0,437.0 540.0,436.1 533.9,435.4 528.6,435.4 523.4,435.4 519.9,433.6 516.4,426.6 512.8,430.1 509.3,435.4 505.8,430.1 502.3,423.1 498.8,412.6 495.3,405.6 492.7,412.6 490.1,426.6 486.6,423.1 483.1,416.1 479.6,412.6 475.2,405.6 471.7,430.1 468.2,424.9 464.7,403.9 461.2,395.1 457.7,384.6 454.2,395.1 449.8,388.1 446.3,372.3 443.6,382.8 440.1,379.3 440.0,350.7 438.1,348.4 435.9,353.0 434.1,358.7 432.4,357.5 430.2,348.4 427.9,357.5 426.2,348.4 424.5,354.1 422.7,348.4 421.0,359.8 419.3,374.6 417.6,359.8 415.9,371.2 414.2,382.6 413.1,365.5 411.9,348.4 410.2,327.9 408.5,317.6 406.2,325.6 404.2,341.6 402.8,327.9 400.5,319.9 400.0,297.3 398.2,314.2 396.0,323.3 394.2,327.9 394.1,299.2 393.1,319.9 391.4,314.2 389.1,299.2 389.1,307.4 387.2,303.2 386.8,309.6 385.2,309.1 384.6,306.2 382.3,300.5 382.3,301.2 380.3,295.3 376.3,294.3 372.4,296.3 369.5,303.2 366.5,294.3 362.6,292.3 358.6,295.3 354.7,294.3 352.7,303.2 350.8,298.2 346.8,293.3 343.9,295.3 340.9,303.2 339.1,289.4 338.0,297.3 336.5,290.5 335.0,292.3 334.5,294.4 332.5,293.1 329.9,289.4 276.0,289.2 273.4,290.5 271.4,293.8 269.5,291.1 267.5,289.8 264.9,290.5 262.9,298.4 261.6,322.0 259.6,294.4 258.7,294.7 257.6,290.5 256.7,288.8 206.8,288.8 205.5,294.7 203.9,307.2 202.8,301.3 200.9,289.5 198.2,292.1 195.6,294.7 193.6,298.6 191.7,293.4 189.7,288.8 175.9,288.8 173.9,291.4 172.0,290.8 171.7,288.8 170.0,289.5 169.7,294.7 167.5,304.6 163.8,296.0 161.2,288.8 153.3,289.5 152.0,296.0 150.0,302.6 148.1,305.9 146.8,294.7 144.8,288.5 142.8,288.5 87.6,288.5" fill="#3c80be" fill-opacity="0.62" stroke="#3c80be" stroke-opacity="0.62" stroke-width="0.01" stroke-linejoin="round"/></g>
<g stroke="#b9b9b9" stroke-width="1.1"><line x1="152.56" y1="248.0" x2="152.56" y2="437.0"/><line x1="217.41" y1="248.0" x2="217.41" y2="437.0"/><line x1="282.27" y1="248.0" x2="282.27" y2="437.0"/><line x1="347.12" y1="248.0" x2="347.12" y2="437.0"/><line x1="411.98" y1="248.0" x2="411.98" y2="437.0"/><line x1="476.83" y1="248.0" x2="476.83" y2="437.0"/><line x1="541.69" y1="248.0" x2="541.69" y2="437.0"/><line x1="606.54" y1="248.0" x2="606.54" y2="437.0"/><line x1="87.7" y1="413.38" x2="671.4" y2="413.38"/><line x1="87.7" y1="389.75" x2="671.4" y2="389.75"/><line x1="87.7" y1="366.12" x2="671.4" y2="366.12"/><line x1="87.7" y1="342.50" x2="671.4" y2="342.50"/><line x1="87.7" y1="318.88" x2="671.4" y2="318.88"/><line x1="87.7" y1="295.25" x2="671.4" y2="295.25"/><line x1="87.7" y1="271.62" x2="671.4" y2="271.62"/></g>
<g clip-path="url(#clipb)"><polyline points="87.7,288.6 144.0,288.6 146.0,292.0 148.0,288.6 162.0,288.6 165.0,292.0 168.0,288.6 334.0,288.6 335.0,288.4 338.9,289.4 342.9,288.4 346.8,289.4 350.8,290.4 354.7,289.4 358.6,288.4 362.6,288.4 366.5,289.4 370.4,291.3 374.4,290.4 378.3,289.4 382.3,290.4 382.3,288.5 384.2,291.3 384.6,290.3 386.2,295.3 386.3,294.8 388.0,291.4 388.2,289.4 390.3,297.1 392.0,291.4 394.1,289.4 394.2,302.8 396.0,292.5 398.2,300.5 400.0,287.4 400.5,297.1 401.9,289.4 402.2,308.5 403.9,294.8 405.6,299.4 407.4,317.6 409.1,300.5 410.8,293.7 412.5,302.8 414.2,327.9 415.3,302.8 417.0,289.1 418.8,306.2 420.5,300.5 422.2,314.2 423.9,291.4 425.6,309.6 427.3,302.8 429.0,314.2 430.2,289.1 431.9,314.2 433.6,300.5 435.9,297.1 437.6,314.2 440.0,308.5 440.1,325.0 443.6,297.0 446.3,333.8 448.9,351.3 452.4,377.6 455.9,298.8 458.5,368.8 462.0,381.1 465.9,339.1 469.1,323.3 471.7,377.6 474.3,395.1 476.1,363.6 478.7,367.1 481.3,395.1 484.8,412.6 488.3,377.6 491.8,328.5 494.5,377.6 498.0,403.9 502.3,416.1 505.8,423.1 509.3,396.9 512.8,403.9 515.5,412.6 519.0,374.1 521.6,388.1 525.1,412.6 528.6,426.6 532.1,423.1 535.6,428.4 539.1,414.5 540.0,430.1 540.1,403.2 542.2,422.6 545.2,430.8 549.3,426.7 555.4,432.8 561.6,424.7 567.7,432.8 575.9,434.9 583.0,430.8 588.1,435.9 595.3,433.9 600.4,435.9 608.6,436.7 678.1,436.7" fill="none" stroke="#3d7fbd" stroke-width="1.3" stroke-opacity="0.85" stroke-linejoin="round"/><polyline points="87.6,288.5 142.8,288.5 144.8,288.5 146.8,294.7 148.1,305.9 150.0,302.6 152.0,296.0 153.3,289.5 161.2,288.8 163.8,296.0 167.5,304.6 169.7,294.7 170.0,289.5 171.7,288.8 172.0,290.8 173.9,291.4 175.9,288.8 189.7,288.8 191.7,293.4 193.6,298.6 195.6,294.7 198.2,292.1 200.9,289.5 202.8,301.3 203.9,307.2 205.5,294.7 206.8,288.8 256.7,288.8 257.6,290.5 258.7,294.7 259.6,294.4 261.6,322.0 262.9,298.4 264.9,290.5 267.5,289.8 269.5,291.1 271.4,293.8 273.4,290.5 276.0,289.2 329.9,289.4 332.5,293.1 334.5,294.4 335.0,292.3 336.5,290.5 338.0,297.3 339.1,289.4 340.9,303.2 343.9,295.3 346.8,293.3 350.8,298.2 352.7,303.2 354.7,294.3 358.6,295.3 362.6,292.3 366.5,294.3 369.5,303.2 372.4,296.3 376.3,294.3 380.3,295.3 382.3,301.2 382.3,300.5 384.6,306.2 385.2,309.1 386.8,309.6 387.2,303.2 389.1,307.4 389.1,299.2 391.4,314.2 393.1,319.9 394.1,299.2 394.2,327.9 396.0,323.3 398.2,314.2 400.0,297.3 400.5,319.9 402.8,327.9 404.2,341.6 406.2,325.6 408.5,317.6 410.2,327.9 411.9,348.4 413.1,365.5 414.2,382.6 415.9,371.2 417.6,359.8 419.3,374.6 421.0,359.8 422.7,348.4 424.5,354.1 426.2,348.4 427.9,357.5 430.2,348.4 432.4,357.5 434.1,358.7 435.9,353.0 438.1,348.4 440.0,350.7 440.1,379.3 443.6,382.8 446.3,372.3 449.8,388.1 454.2,395.1 457.7,384.6 461.2,395.1 464.7,403.9 468.2,424.9 471.7,430.1 475.2,405.6 479.6,412.6 483.1,416.1 486.6,423.1 490.1,426.6 492.7,412.6 495.3,405.6 498.8,412.6 502.3,423.1 505.8,430.1 509.3,435.4 512.8,430.1 516.4,426.6 519.9,433.6 523.4,435.4 528.6,435.4 533.9,435.4 540.0,436.1 560.0,437.0 680.0,437.0" fill="none" stroke="#3d7fbd" stroke-width="1.3" stroke-opacity="0.85" stroke-linejoin="round"/><polyline points="87.7,314.0 392.8,313.7 395.4,321.0 398.1,328.9 400.7,317.5 404.2,314.0 406.8,319.3 410.3,333.3 413.8,338.5 417.3,345.5 420.0,316.3 420.8,315.8 422.6,332.0 424.3,343.8 427.0,322.8 427.0,319.8 430.5,335.0 430.5,339.1 433.1,352.6 433.1,351.3 435.8,325.0 436.6,314.0 437.5,318.0 440.1,329.8 440.1,330.3 443.6,314.5 446.3,314.5 449.8,370.6 453.3,368.8 455.9,342.6 459.4,409.1 462.9,389.9 465.9,385.5 469.1,425.8 472.6,391.6 476.1,416.1 479.6,416.1 483.1,403.9 486.6,407.4 491.8,398.6 495.3,416.1 498.8,407.4 503.2,414.4 507.6,419.6 511.1,430.1 514.6,419.6 519.9,416.1 524.2,409.1 526.9,423.1 530.7,400.4 534.7,419.6 535.0,418.5 539.1,426.7 543.2,430.8 546.2,422.6 550.3,421.6 554.4,435.9 559.5,423.6 563.6,433.9 567.7,433.9 572.8,428.8 575.9,436.7 678.1,436.7" fill="none" stroke="#66dcea" stroke-width="1.4" stroke-opacity="1" stroke-linejoin="round"/><polyline points="291.1,285.2 293.1,284.6 295.7,283.2 298.4,280.0 300.3,277.3 302.3,280.0 304.3,282.6 306.2,286.5 308.9,282.6 310.2,276.7 312.2,277.3 314.8,279.3 316.8,280.6 319.4,281.9 323.3,282.6 325.9,278.6 328.6,276.0 332.5,272.1 334.5,274.1 336.5,278.6 337.0,280.2 338.4,282.6 338.9,286.8 341.6,307.8 342.9,315.7 345.5,289.4 348.1,277.6 350.8,276.3 353.4,279.6 356.0,280.9 358.6,271.7 361.3,273.0 364.6,276.3 367.8,276.9 370.5,278.9 374.4,285.5 377.7,275.6 381.0,270.4 383.0,275.6 384.9,284.2 386.9,296.0 388.2,302.6 390.2,284.2 392.2,272.3 394.1,281.5 396.8,288.1 398.7,288.8 400.7,278.9 402.7,272.3 404.6,269.7 406.6,275.6 408.6,284.2 410.5,293.4 412.5,280.2 414.5,272.3" fill="none" stroke="#000" stroke-width="1.4" stroke-opacity="1" stroke-linejoin="round" stroke-dasharray="5.2,2.3"/><polyline points="280.6,285.2 283.2,290.5 285.9,294.4 287.8,298.4 289.8,293.1 292.4,293.8 295.1,292.4 297.7,293.1 300.3,294.4 302.3,289.2 304.3,287.2 306.2,295.7 307.3,301.0 308.9,291.1 310.8,289.8 313.5,292.4 316.8,292.4 320.0,293.1 323.3,288.5 325.3,295.7 327.3,299.7 329.9,299.7 332.5,296.4 335.1,290.5 337.1,287.8 337.6,286.1 339.6,284.8 340.5,302.6 342.4,360.4 343.5,336.7 344.9,328.8 346.8,302.6 349.5,289.4 352.1,287.4 354.7,289.4 357.3,290.7 360.0,289.4 361.9,288.1 363.9,293.4 366.5,301.2 369.2,303.2 371.8,301.9 374.4,299.9 377.0,296.6 379.7,293.4 381.6,296.0 383.6,306.5 384.9,328.8 387.6,357.0 388.2,328.8 390.2,290.7 392.2,288.8 394.1,290.7 396.1,299.9 398.1,307.8 400.7,307.8 402.7,294.7 404.6,289.4 406.6,290.1 408.6,299.9 410.5,315.7 412.5,302.6 413.8,299.9 417.1,297.3 420.4,294.7 421.7,302.6 423.7,318.3" fill="none" stroke="#000" stroke-width="1.4" stroke-opacity="1" stroke-linejoin="round"/></g>
<rect x="87.7" y="248.0" width="583.6999999999999" height="189.0" fill="none" stroke="#000" stroke-width="1.1"/>
<g stroke="#000" stroke-width="1.1"><line x1="87.70" y1="437.0" x2="87.70" y2="441.90"/><line x1="152.56" y1="437.0" x2="152.56" y2="441.90"/><line x1="217.41" y1="437.0" x2="217.41" y2="441.90"/><line x1="282.27" y1="437.0" x2="282.27" y2="441.90"/><line x1="347.12" y1="437.0" x2="347.12" y2="441.90"/><line x1="411.98" y1="437.0" x2="411.98" y2="441.90"/><line x1="476.83" y1="437.0" x2="476.83" y2="441.90"/><line x1="541.69" y1="437.0" x2="541.69" y2="441.90"/><line x1="606.54" y1="437.0" x2="606.54" y2="441.90"/><line x1="671.40" y1="437.0" x2="671.40" y2="441.90"/><line x1="82.80" y1="437.00" x2="87.7" y2="437.00"/><line x1="82.80" y1="413.38" x2="87.7" y2="413.38"/><line x1="82.80" y1="389.75" x2="87.7" y2="389.75"/><line x1="82.80" y1="366.12" x2="87.7" y2="366.12"/><line x1="82.80" y1="342.50" x2="87.7" y2="342.50"/><line x1="82.80" y1="318.88" x2="87.7" y2="318.88"/><line x1="82.80" y1="295.25" x2="87.7" y2="295.25"/><line x1="82.80" y1="271.62" x2="87.7" y2="271.62"/><line x1="82.80" y1="248.00" x2="87.7" y2="248.00"/></g>
<g fill="#000"><text x="87.70" y="455.20" text-anchor="middle" textLength="25.19" lengthAdjust="spacingAndGlyphs" >1920</text><text x="152.56" y="455.20" text-anchor="middle" textLength="25.19" lengthAdjust="spacingAndGlyphs" >1940</text><text x="217.41" y="455.20" text-anchor="middle" textLength="25.19" lengthAdjust="spacingAndGlyphs" >1960</text><text x="282.27" y="455.20" text-anchor="middle" textLength="25.19" lengthAdjust="spacingAndGlyphs" >1980</text><text x="347.12" y="455.20" text-anchor="middle" textLength="25.19" lengthAdjust="spacingAndGlyphs" >2000</text><text x="411.98" y="455.20" text-anchor="middle" textLength="25.19" lengthAdjust="spacingAndGlyphs" >2020</text><text x="476.83" y="455.20" text-anchor="middle" textLength="25.19" lengthAdjust="spacingAndGlyphs" >2040</text><text x="541.69" y="455.20" text-anchor="middle" textLength="25.19" lengthAdjust="spacingAndGlyphs" >2060</text><text x="606.54" y="455.20" text-anchor="middle" textLength="25.19" lengthAdjust="spacingAndGlyphs" >2080</text><text x="671.40" y="455.20" text-anchor="middle" textLength="25.19" lengthAdjust="spacingAndGlyphs" >2100</text><text x="77.20" y="441.20" text-anchor="end" textLength="22.04" lengthAdjust="spacingAndGlyphs" >0.00</text><text x="77.20" y="417.57" text-anchor="end" textLength="22.04" lengthAdjust="spacingAndGlyphs" >0.03</text><text x="77.20" y="393.95" text-anchor="end" textLength="22.04" lengthAdjust="spacingAndGlyphs" >0.05</text><text x="77.20" y="370.32" text-anchor="end" textLength="22.04" lengthAdjust="spacingAndGlyphs" >0.08</text><text x="77.20" y="346.70" text-anchor="end" textLength="22.04" lengthAdjust="spacingAndGlyphs" >0.10</text><text x="77.20" y="323.07" text-anchor="end" textLength="22.04" lengthAdjust="spacingAndGlyphs" >0.12</text><text x="77.20" y="299.45" text-anchor="end" textLength="22.04" lengthAdjust="spacingAndGlyphs" >0.15</text><text x="77.20" y="275.82" text-anchor="end" textLength="22.04" lengthAdjust="spacingAndGlyphs" >0.18</text><text x="77.20" y="252.20" text-anchor="end" textLength="22.04" lengthAdjust="spacingAndGlyphs" >0.20</text><text x="93.80" y="261.20" text-anchor="start" textLength="31.48" lengthAdjust="spacingAndGlyphs" font-size="10.6" >b) QEI</text></g>
<clipPath id="clipc"><rect x="87.7" y="494.2" width="583.6999999999999" height="188.8"/></clipPath>
<g clip-path="url(#clipc)"><polygon points="88.1,530.4 90.2,529.4 93.3,527.3 96.4,534.6 100.5,531.5 104.7,533.5 107.8,538.7 111.9,530.4 116.1,533.5 120.2,539.7 124.4,535.6 129.6,531.5 133.7,535.6 138.9,531.5 143.0,537.7 147.2,527.3 151.3,535.6 155.5,539.7 159.6,534.6 163.8,537.7 167.9,539.7 172.0,535.6 177.2,537.7 180.0,533.5 181.4,533.5 184.1,532.5 188.3,537.7 192.4,538.7 196.6,533.5 200.7,531.5 203.8,525.2 206.9,533.5 211.1,536.6 215.2,539.7 218.3,537.7 221.5,533.5 224.6,537.7 228.7,533.5 233.9,537.7 238.0,535.6 242.2,534.6 245.3,525.2 249.4,531.5 253.6,533.5 257.7,531.5 261.9,529.4 266.0,536.6 271.2,523.2 275.0,535.6 275.3,534.6 279.1,533.5 283.3,531.5 287.4,529.4 291.6,537.7 295.7,539.7 299.9,537.7 304.0,531.5 308.2,536.6 312.3,533.5 316.5,537.7 320.6,539.7 324.7,539.7 328.9,537.7 330.0,528.0 332.9,535.3 335.8,538.2 338.8,541.1 341.7,545.5 344.6,542.6 347.5,545.5 350.4,542.6 353.4,545.5 356.3,551.3 359.2,554.2 362.1,552.8 365.0,551.3 368.0,546.9 370.9,545.5 372.3,554.2 373.8,545.5 376.7,551.3 379.6,548.4 381.8,558.6 384.0,571.8 386.9,577.6 389.9,565.9 392.0,545.5 395.0,548.4 397.9,551.3 400.1,557.2 403.0,563.0 405.9,558.6 408.8,560.1 411.8,563.0 413.9,567.4 416.1,570.3 419.1,560.1 422.0,565.9 424.9,568.8 427.8,571.8 430.0,558.6 432.2,577.0 436.3,572.9 440.5,587.4 444.6,581.2 449.2,554.2 452.9,593.6 457.0,601.9 461.2,606.1 464.3,630.9 466.5,618.4 467.4,614.4 469.1,598.7 472.3,602.3 475.5,598.7 478.9,618.4 481.1,644.7 482.2,651.2 484.7,634.5 488.4,630.8 492.0,627.9 494.9,644.7 497.8,646.9 501.5,646.9 504.4,644.7 508.1,619.1 511.7,633.0 514.6,650.5 517.6,649.8 521.2,662.2 524.1,654.9 527.0,663.6 530.7,655.6 534.3,666.6 537.3,660.7 540.2,656.4 543.8,660.7 546.8,664.4 549.7,661.5 553.3,659.3 555.0,663.1 556.8,670.1 559.4,666.6 562.9,669.2 566.4,663.9 569.9,670.9 572.5,669.2 576.0,664.8 580.4,671.8 583.9,673.6 586.5,670.9 589.2,673.6 592.7,678.8 595.6,667.4 599.7,671.8 603.2,673.6 606.7,678.0 609.3,678.8 611.9,675.3 614.6,677.1 618.1,671.8 621.6,673.6 625.1,679.7 627.7,678.8 631.2,674.5 634.7,679.7 637.3,675.3 640.8,678.8 644.3,678.8 647.8,678.8 650.5,665.2 653.1,675.3 655.7,680.9 660.1,681.5 667.1,680.9 670.6,681.5 677.6,681.6 680.0,683.0 470.0,683.0 428.0,682.3 423.9,681.7 419.7,680.7 415.6,680.7 411.5,680.7 407.3,680.7 403.2,678.6 399.0,676.5 394.9,672.4 390.7,676.5 386.6,678.6 382.4,676.5 378.3,670.3 374.1,674.5 370.3,672.4 370.0,672.4 366.2,670.3 362.0,666.2 357.9,662.0 353.8,657.9 349.6,655.8 345.5,651.7 341.3,655.8 337.2,653.7 333.0,647.5 328.9,643.4 324.7,639.2 320.6,643.4 316.5,645.4 312.3,643.4 308.2,633.0 304.0,626.8 299.9,614.4 295.7,622.6 291.6,622.6 287.4,635.1 283.3,618.5 279.1,622.6 277.4,614.4 275.0,612.3 273.3,608.1 269.1,606.1 265.0,612.3 260.8,610.2 256.7,612.3 252.5,616.4 248.4,610.2 244.2,618.5 240.1,612.3 236.0,610.2 231.8,614.4 227.7,618.5 223.5,630.9 219.4,641.3 215.2,633.0 211.1,633.0 206.9,620.6 202.8,624.7 198.7,624.7 194.5,626.8 190.4,626.8 186.2,633.0 183.1,637.2 182.4,639.2 180.0,630.9 178.3,637.2 174.1,637.2 170.0,635.1 165.8,630.9 161.7,628.9 157.5,627.8 153.4,624.7 149.2,624.7 145.1,628.9 141.0,633.0 136.8,626.8 132.7,624.7 128.5,622.6 124.4,628.9 120.2,630.9 116.1,626.8 110.9,622.6 105.7,620.6 99.5,618.5 95.4,622.6 91.2,620.6 88.1,624.7" fill="#c64e5c" fill-opacity="0.68" stroke="#c64e5c" stroke-opacity="0.68" stroke-width="0.01" stroke-linejoin="round"/><polyline points="88.1,530.4 90.2,529.4 93.3,527.3 96.4,534.6 100.5,531.5 104.7,533.5 107.8,538.7 111.9,530.4 116.1,533.5 120.2,539.7 124.4,535.6 129.6,531.5 133.7,535.6 138.9,531.5 143.0,537.7 147.2,527.3 151.3,535.6 155.5,539.7 159.6,534.6 163.8,537.7 167.9,539.7 172.0,535.6 177.2,537.7 180.0,533.5 181.4,533.5 184.1,532.5 188.3,537.7 192.4,538.7 196.6,533.5 200.7,531.5 203.8,525.2 206.9,533.5 211.1,536.6 215.2,539.7 218.3,537.7 221.5,533.5 224.6,537.7 228.7,533.5 233.9,537.7 238.0,535.6 242.2,534.6 245.3,525.2 249.4,531.5 253.6,533.5 257.7,531.5 261.9,529.4 266.0,536.6 271.2,523.2 275.0,535.6 275.3,534.6 279.1,533.5 283.3,531.5 287.4,529.4 291.6,537.7 295.7,539.7 299.9,537.7 304.0,531.5 308.2,536.6 312.3,533.5 316.5,537.7 320.6,539.7 324.7,539.7 328.9,537.7 330.0,528.0 332.9,535.3 335.8,538.2 338.8,541.1 341.7,545.5 344.6,542.6 347.5,545.5 350.4,542.6 353.4,545.5 356.3,551.3 359.2,554.2 362.1,552.8 365.0,551.3 368.0,546.9 370.9,545.5 372.3,554.2 373.8,545.5 376.7,551.3 379.6,548.4 381.8,558.6 384.0,571.8 386.9,577.6 389.9,565.9 392.0,545.5 395.0,548.4 397.9,551.3 400.1,557.2 403.0,563.0 405.9,558.6 408.8,560.1 411.8,563.0 413.9,567.4 416.1,570.3 419.1,560.1 422.0,565.9 424.9,568.8 427.8,571.8 430.0,558.6 432.2,577.0 436.3,572.9 440.5,587.4 444.6,581.2 449.2,554.2 452.9,593.6 457.0,601.9 461.2,606.1 464.3,630.9 466.5,618.4 467.4,614.4 469.1,598.7 472.3,602.3 475.5,598.7 478.9,618.4 481.1,644.7 482.2,651.2 484.7,634.5 488.4,630.8 492.0,627.9 494.9,644.7 497.8,646.9 501.5,646.9 504.4,644.7 508.1,619.1 511.7,633.0 514.6,650.5 517.6,649.8 521.2,662.2 524.1,654.9 527.0,663.6 530.7,655.6 534.3,666.6 537.3,660.7 540.2,656.4 543.8,660.7 546.8,664.4 549.7,661.5 553.3,659.3 555.0,663.1 556.8,670.1 559.4,666.6 562.9,669.2 566.4,663.9 569.9,670.9 572.5,669.2 576.0,664.8 580.4,671.8 583.9,673.6 586.5,670.9 589.2,673.6 592.7,678.8 595.6,667.4 599.7,671.8 603.2,673.6 606.7,678.0 609.3,678.8 611.9,675.3 614.6,677.1 618.1,671.8 621.6,673.6 625.1,679.7 627.7,678.8 631.2,674.5 634.7,679.7 637.3,675.3 640.8,678.8 644.3,678.8 647.8,678.8 650.5,665.2 653.1,675.3 655.7,680.9 660.1,681.5 667.1,680.9 670.6,681.5 677.6,681.6" fill="none" stroke="#c64e5c" stroke-width="1.25" stroke-opacity="0.82" stroke-linejoin="round"/><polyline points="88.1,624.7 91.2,620.6 95.4,622.6 99.5,618.5 105.7,620.6 110.9,622.6 116.1,626.8 120.2,630.9 124.4,628.9 128.5,622.6 132.7,624.7 136.8,626.8 141.0,633.0 145.1,628.9 149.2,624.7 153.4,624.7 157.5,627.8 161.7,628.9 165.8,630.9 170.0,635.1 174.1,637.2 178.3,637.2 180.0,630.9 182.4,639.2 183.1,637.2 186.2,633.0 190.4,626.8 194.5,626.8 198.7,624.7 202.8,624.7 206.9,620.6 211.1,633.0 215.2,633.0 219.4,641.3 223.5,630.9 227.7,618.5 231.8,614.4 236.0,610.2 240.1,612.3 244.2,618.5 248.4,610.2 252.5,616.4 256.7,612.3 260.8,610.2 265.0,612.3 269.1,606.1 273.3,608.1 275.0,612.3 277.4,614.4 279.1,622.6 283.3,618.5 287.4,635.1 291.6,622.6 295.7,622.6 299.9,614.4 304.0,626.8 308.2,633.0 312.3,643.4 316.5,645.4 320.6,643.4 324.7,639.2 328.9,643.4 333.0,647.5 337.2,653.7 341.3,655.8 345.5,651.7 349.6,655.8 353.8,657.9 357.9,662.0 362.0,666.2 366.2,670.3 370.0,672.4 370.3,672.4 374.1,674.5 378.3,670.3 382.4,676.5 386.6,678.6 390.7,676.5 394.9,672.4 399.0,676.5 403.2,678.6 407.3,680.7 411.5,680.7 415.6,680.7 419.7,680.7 423.9,681.7 428.0,682.3 470.0,683.0 680.0,683.0" fill="none" stroke="#c64e5c" stroke-width="1.25" stroke-opacity="0.82" stroke-linejoin="round"/><polyline points="88.1,562.5 92.3,563.6 96.4,567.7 100.5,564.6 103.7,562.5 107.8,567.7 111.9,570.8 116.1,572.9 120.2,573.9 124.4,573.9 129.6,577.0 133.7,578.1 137.8,573.9 142.0,571.9 146.1,575.0 150.3,578.1 154.4,573.9 158.6,571.9 162.7,573.9 166.9,577.0 172.0,573.9 177.2,572.9 180.0,572.9 181.4,572.5 186.2,570.8 192.4,569.8 198.7,570.8 204.9,558.4 209.0,558.4 213.2,562.5 217.3,565.6 221.5,564.6 225.6,560.5 230.8,559.4 236.0,554.2 242.2,556.3 246.3,558.4 250.5,554.2 254.6,555.3 258.8,556.3 262.9,554.2 269.1,558.4 275.0,570.8 275.3,564.6 281.2,575.0 287.4,577.0 293.7,579.1 299.9,577.0 306.1,581.2 312.3,583.3 318.5,583.3 324.7,586.4 331.0,589.5 337.2,595.7 341.3,597.8 345.5,606.1 349.6,612.3 353.8,614.4 357.9,618.5 362.0,622.6 366.2,624.7 370.0,630.9 370.3,628.9 376.2,635.1 382.4,639.2 388.7,641.3 394.9,643.4 401.1,637.2 407.3,633.0 413.5,637.2 419.7,641.3 426.0,645.4 432.2,647.5 438.4,651.7 444.6,655.8 450.8,657.9 457.0,662.0 463.3,666.2 465.0,668.0 469.4,669.5 473.8,668.0 478.1,668.8 482.5,671.7 486.9,672.4 491.3,672.4 495.7,673.1 500.0,675.3 504.4,676.8 508.8,676.1 513.2,676.8 517.6,677.5 521.9,678.2 526.3,678.5 532.2,679.0 538.0,678.5 543.8,679.0 549.7,679.0 555.5,679.7 563.8,680.2 572.5,680.6 581.3,680.9 590.0,680.9 598.8,680.9 607.6,681.1 616.3,680.9 625.1,680.9 633.8,681.1 642.6,680.9 649.6,679.7 652.2,680.9 660.1,681.6 670.6,681.6 677.6,681.6" fill="none" stroke="#c3424f" stroke-width="1.6" stroke-opacity="1" stroke-linejoin="round"/><polygon points="88.1,531.5 91.2,533.5 96.4,519.0 99.5,531.5 102.6,529.4 105.7,533.5 108.8,523.2 111.9,513.8 116.1,537.7 121.3,543.9 125.4,525.2 129.6,537.7 134.7,513.8 138.9,521.1 142.0,526.3 146.1,531.5 150.3,539.7 153.4,552.2 157.5,519.0 160.6,539.7 164.8,533.5 167.9,543.9 172.0,552.2 176.2,537.7 180.0,554.2 180.3,541.8 184.1,541.8 188.3,558.4 192.4,556.3 196.6,568.8 200.7,558.4 203.8,537.7 206.9,523.2 210.1,531.5 213.2,528.3 216.3,552.2 219.4,566.7 223.5,560.5 226.6,537.7 229.7,527.3 232.8,543.9 236.0,550.1 240.1,560.5 244.2,531.5 248.4,519.0 251.5,552.2 254.6,558.4 258.8,552.2 261.9,521.1 265.0,552.2 269.1,562.5 275.0,548.0 275.3,548.0 279.1,552.2 283.3,523.2 287.4,548.0 291.6,554.2 295.7,543.9 299.9,535.6 304.0,537.7 308.2,543.9 312.3,529.4 316.5,552.2 320.6,558.4 324.7,550.1 328.9,539.7 333.0,548.0 337.2,552.2 341.3,552.2 345.5,585.3 349.6,577.0 353.8,568.8 357.9,556.3 362.0,560.5 366.2,552.2 370.0,552.2 370.3,550.1 374.1,564.6 378.3,577.0 381.4,558.4 384.5,583.3 388.7,593.6 392.8,589.5 395.9,597.8 399.0,606.1 403.2,593.6 407.3,562.5 411.5,597.8 415.6,614.4 419.7,597.8 421.6,591.0 424.2,580.2 426.9,586.9 429.9,560.0 431.7,586.9 433.7,634.1 436.4,612.5 439.1,640.8 441.8,654.3 444.5,613.9 446.5,574.8 448.5,627.4 451.2,647.6 453.2,603.1 455.2,640.8 457.9,670.5 460.6,674.5 463.3,675.9 466.0,674.5 468.7,654.3 470.7,674.5 473.4,678.5 476.8,677.2 480.0,675.9 481.8,668.8 484.7,679.7 488.4,670.9 492.0,662.2 494.9,670.9 497.8,679.7 501.5,681.5 508.8,681.9 517.6,679.7 520.5,681.2 526.3,681.9 533.6,679.0 536.5,681.9 540.9,680.4 546.8,681.9 558.4,681.9 560.6,680.4 562.8,682.6 680.0,683.0 680.0,683.0 560.0,683.0 480.0,681.2 474.1,679.9 470.1,678.5 467.4,675.9 464.7,677.2 462.0,678.5 459.3,677.2 456.6,674.5 453.9,667.8 451.2,662.4 448.5,651.6 445.8,661.0 443.1,654.3 440.4,657.0 437.7,647.6 435.0,658.3 432.3,654.3 429.6,647.6 426.9,654.3 423.6,667.8 421.6,659.7 419.7,670.3 415.6,664.1 411.5,655.8 407.3,645.4 403.2,639.2 399.0,633.0 394.9,635.1 390.7,639.2 386.6,635.1 382.4,618.5 378.3,624.7 374.1,614.4 370.3,612.3 370.0,606.1 366.2,597.8 362.0,597.8 357.9,606.1 353.8,620.6 349.6,614.4 345.5,606.1 341.3,599.8 337.2,606.1 333.0,606.1 328.9,593.6 324.7,589.5 320.6,585.3 316.5,591.6 312.3,589.5 308.2,583.3 304.0,589.5 299.9,593.6 295.7,581.2 291.6,579.1 287.4,583.3 283.3,581.2 279.1,579.1 275.3,583.3 275.0,577.0 269.1,579.1 265.0,583.3 261.9,606.1 258.8,568.8 254.6,572.9 250.5,572.9 246.3,583.3 242.2,610.2 239.1,614.4 236.0,577.0 232.8,562.5 228.7,541.8 224.6,589.5 221.5,577.0 217.3,562.5 213.2,552.2 209.0,554.2 205.9,562.5 202.8,597.8 199.7,589.5 196.6,572.9 193.5,597.8 190.4,587.4 187.3,583.3 184.1,568.8 180.3,568.8 180.0,572.9 176.2,593.6 172.0,589.5 167.9,581.2 164.8,593.6 160.6,577.0 157.5,564.6 154.4,593.6 151.3,655.8 148.2,591.6 145.1,568.8 142.0,577.0 137.8,604.0 133.7,562.5 129.6,568.8 126.5,577.0 122.3,581.2 118.2,564.6 114.0,560.5 108.8,552.2 105.7,550.1 102.6,552.2 98.5,554.2 94.3,577.0 91.2,587.4 88.1,599.8" fill="#3c80be" fill-opacity="0.66" stroke="#3c80be" stroke-opacity="0.66" stroke-width="0.01" stroke-linejoin="round"/></g>
<g stroke="#b9b9b9" stroke-width="1.1"><line x1="152.56" y1="494.2" x2="152.56" y2="683.0"/><line x1="217.41" y1="494.2" x2="217.41" y2="683.0"/><line x1="282.27" y1="494.2" x2="282.27" y2="683.0"/><line x1="347.12" y1="494.2" x2="347.12" y2="683.0"/><line x1="411.98" y1="494.2" x2="411.98" y2="683.0"/><line x1="476.83" y1="494.2" x2="476.83" y2="683.0"/><line x1="541.69" y1="494.2" x2="541.69" y2="683.0"/><line x1="606.54" y1="494.2" x2="606.54" y2="683.0"/><line x1="87.7" y1="645.24" x2="671.4" y2="645.24"/><line x1="87.7" y1="607.48" x2="671.4" y2="607.48"/><line x1="87.7" y1="569.72" x2="671.4" y2="569.72"/><line x1="87.7" y1="531.96" x2="671.4" y2="531.96"/></g>
<g clip-path="url(#clipc)"><polyline points="88.1,531.5 91.2,533.5 96.4,519.0 99.5,531.5 102.6,529.4 105.7,533.5 108.8,523.2 111.9,513.8 116.1,537.7 121.3,543.9 125.4,525.2 129.6,537.7 134.7,513.8 138.9,521.1 142.0,526.3 146.1,531.5 150.3,539.7 153.4,552.2 157.5,519.0 160.6,539.7 164.8,533.5 167.9,543.9 172.0,552.2 176.2,537.7 180.0,554.2 180.3,541.8 184.1,541.8 188.3,558.4 192.4,556.3 196.6,568.8 200.7,558.4 203.8,537.7 206.9,523.2 210.1,531.5 213.2,528.3 216.3,552.2 219.4,566.7 223.5,560.5 226.6,537.7 229.7,527.3 232.8,543.9 236.0,550.1 240.1,560.5 244.2,531.5 248.4,519.0 251.5,552.2 254.6,558.4 258.8,552.2 261.9,521.1 265.0,552.2 269.1,562.5 275.0,548.0 275.3,548.0 279.1,552.2 283.3,523.2 287.4,548.0 291.6,554.2 295.7,543.9 299.9,535.6 304.0,537.7 308.2,543.9 312.3,529.4 316.5,552.2 320.6,558.4 324.7,550.1 328.9,539.7 333.0,548.0 337.2,552.2 341.3,552.2 345.5,585.3 349.6,577.0 353.8,568.8 357.9,556.3 362.0,560.5 366.2,552.2 370.0,552.2 370.3,550.1 374.1,564.6 378.3,577.0 381.4,558.4 384.5,583.3 388.7,593.6 392.8,589.5 395.9,597.8 399.0,606.1 403.2,593.6 407.3,562.5 411.5,597.8 415.6,614.4 419.7,597.8 421.6,591.0 424.2,580.2 426.9,586.9 429.9,560.0 431.7,586.9 433.7,634.1 436.4,612.5 439.1,640.8 441.8,654.3 444.5,613.9 446.5,574.8 448.5,627.4 451.2,647.6 453.2,603.1 455.2,640.8 457.9,670.5 460.6,674.5 463.3,675.9 466.0,674.5 468.7,654.3 470.7,674.5 473.4,678.5 476.8,677.2 480.0,675.9 481.8,668.8 484.7,679.7 488.4,670.9 492.0,662.2 494.9,670.9 497.8,679.7 501.5,681.5 508.8,681.9 517.6,679.7 520.5,681.2 526.3,681.9 533.6,679.0 536.5,681.9 540.9,680.4 546.8,681.9 558.4,681.9 560.6,680.4 562.8,682.6 680.0,683.0" fill="none" stroke="#3d7fbd" stroke-width="1.6" stroke-opacity="0.9" stroke-linejoin="round"/><polyline points="88.1,599.8 91.2,587.4 94.3,577.0 98.5,554.2 102.6,552.2 105.7,550.1 108.8,552.2 114.0,560.5 118.2,564.6 122.3,581.2 126.5,577.0 129.6,568.8 133.7,562.5 137.8,604.0 142.0,577.0 145.1,568.8 148.2,591.6 151.3,655.8 154.4,593.6 157.5,564.6 160.6,577.0 164.8,593.6 167.9,581.2 172.0,589.5 176.2,593.6 180.0,572.9 180.3,568.8 184.1,568.8 187.3,583.3 190.4,587.4 193.5,597.8 196.6,572.9 199.7,589.5 202.8,597.8 205.9,562.5 209.0,554.2 213.2,552.2 217.3,562.5 221.5,577.0 224.6,589.5 228.7,541.8 232.8,562.5 236.0,577.0 239.1,614.4 242.2,610.2 246.3,583.3 250.5,572.9 254.6,572.9 258.8,568.8 261.9,606.1 265.0,583.3 269.1,579.1 275.0,577.0 275.3,583.3 279.1,579.1 283.3,581.2 287.4,583.3 291.6,579.1 295.7,581.2 299.9,593.6 304.0,589.5 308.2,583.3 312.3,589.5 316.5,591.6 320.6,585.3 324.7,589.5 328.9,593.6 333.0,606.1 337.2,606.1 341.3,599.8 345.5,606.1 349.6,614.4 353.8,620.6 357.9,606.1 362.0,597.8 366.2,597.8 370.0,606.1 370.3,612.3 374.1,614.4 378.3,624.7 382.4,618.5 386.6,635.1 390.7,639.2 394.9,635.1 399.0,633.0 403.2,639.2 407.3,645.4 411.5,655.8 415.6,664.1 419.7,670.3 421.6,659.7 423.6,667.8 426.9,654.3 429.6,647.6 432.3,654.3 435.0,658.3 437.7,647.6 440.4,657.0 443.1,654.3 445.8,661.0 448.5,651.6 451.2,662.4 453.9,667.8 456.6,674.5 459.3,677.2 462.0,678.5 464.7,677.2 467.4,675.9 470.1,678.5 474.1,679.9 480.0,681.2 560.0,683.0 680.0,683.0" fill="none" stroke="#3d7fbd" stroke-width="1.6" stroke-opacity="0.9" stroke-linejoin="round"/><polyline points="88.1,565.6 91.2,560.5 94.3,550.9 96.4,542.3 98.5,540.8 99.5,542.6 102.6,540.8 105.7,541.8 108.8,537.7 111.9,535.5 114.0,543.1 116.1,550.1 118.2,552.4 121.3,560.5 122.3,560.2 125.4,551.7 126.5,552.7 129.6,553.2 133.7,540.6 134.7,543.4 137.8,561.6 138.9,559.2 142.0,551.7 145.1,549.5 146.1,553.9 148.2,563.6 150.3,587.1 151.3,599.8 153.4,583.3 154.4,568.8 157.5,541.8 160.6,558.4 164.8,563.6 167.9,562.5 172.0,570.8 176.2,565.6 180.0,563.6 180.3,555.3 184.1,555.3 187.3,568.8 188.3,571.5 190.4,572.4 192.4,575.3 193.5,578.6 196.6,570.8 199.7,575.2 200.7,575.3 202.8,571.2 203.8,561.8 205.9,545.3 206.9,541.5 209.0,541.5 210.1,542.6 213.2,540.3 216.3,556.1 217.3,559.8 219.4,568.2 221.5,570.3 223.5,572.9 224.6,571.2 226.6,551.7 228.7,536.3 229.7,537.2 232.8,553.2 236.0,563.6 239.1,586.1 240.1,586.7 242.2,578.1 244.2,564.1 246.3,554.2 248.4,548.5 250.5,557.0 251.5,562.5 254.6,565.6 258.8,560.5 261.9,563.6 265.0,567.7 269.1,570.8 275.0,562.5 275.3,565.6 279.1,565.6 283.3,552.2 287.4,565.6 291.6,566.7 295.7,562.5 299.9,564.6 304.0,563.6 308.2,563.6 312.3,559.4 316.5,571.9 320.6,571.9 324.7,569.8 328.9,566.7 333.0,577.0 337.2,579.1 341.3,576.0 345.5,595.7 349.6,595.7 353.8,594.7 357.9,581.2 362.0,579.1 366.2,575.0 370.0,579.1 370.3,581.2 374.1,589.5 378.3,600.9 381.4,589.2 382.4,592.6 384.5,605.0 386.6,611.8 388.7,615.4 390.7,615.4 392.8,613.3 394.9,615.0 395.9,616.2 399.0,619.5 403.2,616.4 407.3,604.0 411.5,626.8 415.6,639.2 419.7,634.0 421.6,625.3 423.6,625.3 424.2,622.6 426.9,620.6 429.6,605.0 429.9,604.1 431.7,619.8 432.3,628.5 433.7,645.2 435.0,640.8 436.4,632.7 437.7,637.1 439.1,646.6 440.4,652.3 441.8,655.0 443.1,644.2 444.5,635.8 445.8,624.4 446.5,616.7 448.5,639.5 451.2,655.0 453.2,634.8 453.9,641.7 455.2,656.0 456.6,665.1 457.9,673.2 459.3,674.8 460.6,676.2 462.0,676.9 463.3,676.9 464.7,676.2 466.0,675.5 467.4,670.1 468.7,665.8 470.1,673.2 470.7,676.6 473.4,679.1 474.1,679.1 476.8,678.9 480.0,678.5 481.8,675.0 484.7,680.5 488.4,676.2 492.0,671.8 494.9,676.3 497.8,680.7 501.5,681.6 508.8,681.9 517.6,680.9 520.5,681.6 526.3,682.1 533.6,680.7 536.5,682.2 540.9,681.5 546.8,682.3 558.4,682.4 560.0,681.9 560.6,681.7 562.8,682.8 680.0,683.0" fill="none" stroke="#3d7fbd" stroke-width="1.7000000000000002" stroke-opacity="0.9" stroke-linejoin="round"/><polyline points="88.1,624.7 90.2,639.2 93.3,624.7 96.4,600.9 99.5,653.7 102.6,653.7 105.7,630.9 109.9,647.5 116.1,655.8 119.2,616.4 122.3,612.3 125.4,622.6 128.5,640.3 131.6,616.4 134.7,620.6 137.8,611.2 142.0,644.4 145.1,624.7 148.2,635.1 151.3,606.1 156.5,635.1 160.6,668.2 164.8,635.1 167.9,604.0 171.0,638.2 174.1,606.1 178.3,630.9 180.0,639.2 182.4,645.4 184.1,655.8 187.3,658.9 190.4,618.5 193.5,639.2 196.6,581.2 199.7,618.5 202.8,651.7 206.9,610.2 210.1,643.4 213.2,649.6 216.3,591.6 219.4,608.1 222.5,657.9 225.6,662.0 228.7,682.7 231.8,610.2 236.0,597.8 240.1,618.5 242.2,633.0 245.3,668.2 248.4,618.5 252.5,593.6 255.6,618.5 258.8,641.3 261.9,635.1 265.0,608.1 268.1,614.4 271.2,597.8 274.3,612.3 275.0,608.1 277.4,608.1 278.1,609.2 281.2,614.4 284.3,595.7 287.4,635.1 290.5,672.4 293.7,662.0 296.8,614.4 299.9,641.3 303.0,612.3 306.1,610.2 309.2,655.8 312.3,655.8 315.4,639.2 318.5,666.2 321.6,626.8 324.7,608.1 327.8,620.6 331.0,639.2 333.0,655.8 335.1,630.9 338.2,606.1 341.3,614.4 344.4,552.2 346.5,595.7 349.6,620.6 352.7,639.2 355.8,622.6 357.9,635.1 362.0,655.8 366.2,668.2 370.0,672.4 370.3,672.4 374.1,674.5 378.3,658.9 382.4,662.0 385.5,668.2 389.7,678.6 392.8,666.2 394.9,654.8 398.0,668.2 401.1,674.5 404.2,678.6 411.5,680.7 417.7,676.5 421.8,675.5 427.0,670.3 430.1,675.5 436.3,677.6 440.5,674.5 443.2,650.6 445.6,676.5 448.8,679.6 457.0,680.7 461.2,682.3 475.0,683.6 680.0,683.6" fill="none" stroke="#66dcea" stroke-width="1.4" stroke-opacity="1" stroke-linejoin="round"/><polyline points="293.7,550.1 297.8,525.2 299.9,558.4 301.9,535.6 305.1,514.9 308.2,541.8 311.3,556.3 314.4,550.1 317.5,529.4 320.6,514.9 323.7,509.7 326.8,534.6 331.0,523.2 335.1,510.7 338.2,512.8 341.3,543.9 343.4,583.3 346.5,589.5 349.6,568.8 352.7,548.0 355.8,537.7 358.9,519.0 362.0,510.7 365.2,531.5 368.3,572.9 370.0,604.0 371.4,610.2 373.1,610.2 376.2,587.4 378.7,566.7 381.4,591.6 384.5,643.4 387.6,626.8 390.7,566.7 392.8,548.0 394.9,539.7 398.0,610.2 401.1,591.6 404.2,558.4 407.7,527.3 410.8,593.6 413.9,516.9" fill="none" stroke="#000" stroke-width="1.4" stroke-opacity="1" stroke-linejoin="round" stroke-dasharray="5.2,2.3"/><polyline points="281.2,514.9 284.3,531.5 287.4,589.5 290.5,550.1 293.7,551.1 295.7,572.9 298.8,568.8 300.9,577.0 304.0,533.5 308.2,572.9 313.3,598.8 316.5,570.8 319.6,576.0 323.7,547.0 326.8,596.7 331.0,585.3 335.1,580.2 338.2,558.4 341.3,601.9 342.4,649.6 346.5,635.1 349.6,618.5 352.7,603.0 355.8,601.9 358.9,572.9 362.0,554.2 365.2,572.9 368.3,614.4 370.0,641.3 371.4,653.7 372.1,653.7 375.2,633.0 378.3,608.1 381.4,649.6 384.5,662.0 388.7,662.0 391.8,608.1 394.9,589.5 398.0,653.7 401.1,630.9 404.2,608.1 407.3,577.0 410.4,616.4 413.5,616.4 417.3,591.6 420.8,655.8 424.3,663.1" fill="none" stroke="#000" stroke-width="1.4" stroke-opacity="1" stroke-linejoin="round"/></g>
<rect x="87.7" y="494.2" width="583.6999999999999" height="188.8" fill="none" stroke="#000" stroke-width="1.1"/>
<g stroke="#000" stroke-width="1.1"><line x1="87.70" y1="683.0" x2="87.70" y2="687.90"/><line x1="152.56" y1="683.0" x2="152.56" y2="687.90"/><line x1="217.41" y1="683.0" x2="217.41" y2="687.90"/><line x1="282.27" y1="683.0" x2="282.27" y2="687.90"/><line x1="347.12" y1="683.0" x2="347.12" y2="687.90"/><line x1="411.98" y1="683.0" x2="411.98" y2="687.90"/><line x1="476.83" y1="683.0" x2="476.83" y2="687.90"/><line x1="541.69" y1="683.0" x2="541.69" y2="687.90"/><line x1="606.54" y1="683.0" x2="606.54" y2="687.90"/><line x1="671.40" y1="683.0" x2="671.40" y2="687.90"/><line x1="82.80" y1="683.00" x2="87.7" y2="683.00"/><line x1="82.80" y1="645.24" x2="87.7" y2="645.24"/><line x1="82.80" y1="607.48" x2="87.7" y2="607.48"/><line x1="82.80" y1="569.72" x2="87.7" y2="569.72"/><line x1="82.80" y1="531.96" x2="87.7" y2="531.96"/><line x1="82.80" y1="494.20" x2="87.7" y2="494.20"/></g>
<g fill="#000"><text x="87.70" y="701.20" text-anchor="middle" textLength="25.19" lengthAdjust="spacingAndGlyphs" >1920</text><text x="152.56" y="701.20" text-anchor="middle" textLength="25.19" lengthAdjust="spacingAndGlyphs" >1940</text><text x="217.41" y="701.20" text-anchor="middle" textLength="25.19" lengthAdjust="spacingAndGlyphs" >1960</text><text x="282.27" y="701.20" text-anchor="middle" textLength="25.19" lengthAdjust="spacingAndGlyphs" >1980</text><text x="347.12" y="701.20" text-anchor="middle" textLength="25.19" lengthAdjust="spacingAndGlyphs" >2000</text><text x="411.98" y="701.20" text-anchor="middle" textLength="25.19" lengthAdjust="spacingAndGlyphs" >2020</text><text x="476.83" y="701.20" text-anchor="middle" textLength="25.19" lengthAdjust="spacingAndGlyphs" >2040</text><text x="541.69" y="701.20" text-anchor="middle" textLength="25.19" lengthAdjust="spacingAndGlyphs" >2060</text><text x="606.54" y="701.20" text-anchor="middle" textLength="25.19" lengthAdjust="spacingAndGlyphs" >2080</text><text x="671.40" y="701.20" text-anchor="middle" textLength="25.19" lengthAdjust="spacingAndGlyphs" >2100</text><text x="77.20" y="687.20" text-anchor="end" textLength="22.04" lengthAdjust="spacingAndGlyphs" >0.00</text><text x="77.20" y="649.44" text-anchor="end" textLength="22.04" lengthAdjust="spacingAndGlyphs" >0.10</text><text x="77.20" y="611.68" text-anchor="end" textLength="22.04" lengthAdjust="spacingAndGlyphs" >0.20</text><text x="77.20" y="573.92" text-anchor="end" textLength="22.04" lengthAdjust="spacingAndGlyphs" >0.30</text><text x="77.20" y="536.16" text-anchor="end" textLength="22.04" lengthAdjust="spacingAndGlyphs" >0.40</text><text x="77.20" y="498.40" text-anchor="end" textLength="22.04" lengthAdjust="spacingAndGlyphs" >0.50</text><text x="93.80" y="507.40" text-anchor="start" textLength="44.55" lengthAdjust="spacingAndGlyphs" font-size="10.6" >c) CAA-S</text></g>
<rect x="564.6" y="498.90" width="101.1" height="78.60" rx="2.2" fill="#fff" fill-opacity="0.8" stroke="#cccccc" stroke-width="1"/><line x1="568.3" y1="507.70" x2="590.2" y2="507.70" stroke="#3874b2" stroke-width="1.4"/><g fill="#000"><text x="597.90" y="511.40" text-anchor="start" textLength="63.50" lengthAdjust="spacingAndGlyphs" font-size="10.6" >CESM1.3-HR</text></g><line x1="568.3" y1="522.85" x2="590.2" y2="522.85" stroke="#66dcea" stroke-width="1.4"/><g fill="#000"><text x="597.90" y="526.55" text-anchor="start" textLength="61.51" lengthAdjust="spacingAndGlyphs" font-size="10.6" >CESM1.3-LR</text></g><line x1="568.3" y1="538.00" x2="590.2" y2="538.00" stroke="#c64e5c" stroke-width="1.4"/><g fill="#000"><text x="597.90" y="541.70" text-anchor="start" textLength="51.14" lengthAdjust="spacingAndGlyphs" font-size="10.6" >CESM2-LE</text></g><line x1="568.3" y1="553.15" x2="590.2" y2="553.15" stroke="#000" stroke-width="1.4"/><g fill="#000"><text x="597.90" y="556.85" text-anchor="start" textLength="22.06" lengthAdjust="spacingAndGlyphs" font-size="10.6" >CDR</text></g><line x1="568.3" y1="568.30" x2="590.2" y2="568.30" stroke="#000" stroke-width="1.4" stroke-dasharray="5.2,2.3"/><g fill="#000"><text x="597.90" y="572.00" text-anchor="start" textLength="16.60" lengthAdjust="spacingAndGlyphs" font-size="10.6" >CIS</text></g>
<clipPath id="clipd"><rect x="87.7" y="740.5" width="583.6999999999999" height="189.0"/></clipPath>
<g clip-path="url(#clipd)"><polygon points="88.1,780.6 90.2,781.6 93.3,777.5 97.4,779.6 101.6,774.4 105.7,778.5 108.8,773.3 111.9,776.5 116.1,775.4 120.2,774.4 123.3,782.7 126.5,784.7 129.6,779.6 132.7,778.5 136.8,781.6 141.0,780.6 145.1,778.5 148.2,776.5 151.3,775.4 154.4,784.7 158.6,781.6 163.8,784.7 167.9,781.6 172.0,784.7 176.2,785.8 180.0,778.5 180.3,778.5 184.1,779.6 188.3,784.7 192.4,778.5 196.6,783.7 200.7,778.5 204.9,780.6 209.0,776.5 213.2,774.4 217.3,776.5 221.5,767.1 224.6,774.4 228.7,775.4 231.8,774.4 236.0,773.3 240.1,775.4 244.2,773.3 248.4,775.4 251.5,779.6 254.6,775.4 258.8,766.1 262.9,766.1 267.0,774.4 271.2,772.3 275.0,776.5 275.3,771.3 279.1,776.5 283.3,780.6 287.4,778.5 291.6,782.7 295.7,781.6 299.9,776.5 304.0,778.5 308.2,772.3 311.3,774.4 315.4,786.8 319.6,791.0 323.7,786.8 327.8,793.0 332.0,793.0 336.1,792.0 340.3,793.0 344.4,795.1 348.6,793.0 352.7,791.0 356.9,797.2 361.0,805.5 365.2,809.6 369.3,813.8 370.0,813.8 374.1,811.7 378.3,810.6 382.4,817.9 386.6,813.8 390.7,820.0 393.8,817.9 396.9,809.6 400.1,817.9 403.2,813.8 407.3,828.3 410.4,806.5 413.5,809.6 416.6,805.5 420.8,815.8 423.9,812.7 427.0,828.3 431.1,828.3 436.3,825.2 440.5,834.5 444.6,836.6 448.8,840.7 452.9,851.1 456.0,846.9 459.1,842.8 463.3,844.8 465.0,854.6 466.6,852.2 469.0,848.2 472.2,867.4 475.4,859.4 478.6,869.1 481.9,865.8 485.1,863.4 489.1,875.5 491.5,873.9 494.7,888.3 497.9,881.9 501.6,872.3 505.1,889.9 507.6,889.1 510.8,878.7 514.8,873.9 517.2,902.8 520.4,899.6 523.6,902.8 527.6,894.7 530.8,906.0 534.1,898.0 537.3,902.8 540.5,909.2 543.7,898.0 546.9,915.6 550.1,918.0 553.3,918.8 556.5,911.6 559.7,918.0 563.4,913.5 566.7,917.2 569.2,918.8 572.6,918.0 575.9,920.5 579.3,918.8 582.7,922.2 586.0,920.5 588.9,915.5 591.9,922.2 595.3,920.5 598.6,923.0 603.6,923.4 607.0,923.9 611.2,922.7 615.4,923.9 619.6,924.7 624.6,922.2 628.0,924.7 632.2,924.4 637.2,924.4 642.3,924.7 645.6,927.2 650.7,923.0 654.0,927.6 659.1,926.9 664.1,927.2 667.4,926.9 670.8,926.4 677.5,926.4 680.0,929.5 468.0,929.5 465.3,925.7 461.2,925.7 457.0,925.7 452.9,923.6 448.8,921.5 444.6,917.4 440.5,919.5 436.3,919.5 432.2,917.4 428.0,913.2 423.9,909.1 419.7,911.2 415.6,909.1 411.5,911.2 407.3,909.1 403.2,913.2 399.0,913.2 394.9,917.4 390.7,915.3 386.6,913.2 382.4,917.4 378.3,915.3 374.1,909.1 370.3,913.2 370.0,907.0 366.2,909.1 362.0,907.0 357.9,902.9 353.8,898.7 349.6,892.5 346.5,896.7 341.3,896.7 337.2,867.6 333.0,853.1 329.9,846.9 326.8,853.1 323.7,848.0 320.6,859.4 317.5,865.6 313.3,851.1 310.2,855.2 307.1,857.3 304.0,873.9 299.9,855.2 296.8,846.9 292.6,842.8 288.5,842.8 284.3,859.4 279.1,846.9 275.3,842.8 275.0,844.8 271.2,834.5 267.0,830.3 262.9,834.5 259.8,828.3 256.7,820.0 253.6,828.3 250.5,828.3 246.3,832.4 242.2,838.6 239.1,844.8 236.0,826.2 232.8,836.6 229.7,849.0 225.6,844.8 222.5,867.6 219.4,851.1 216.3,838.6 213.2,852.1 209.0,844.8 205.9,839.7 202.8,848.0 199.7,849.0 196.6,846.9 192.4,840.7 189.3,845.9 186.2,842.8 183.1,840.7 180.3,850.0 180.0,851.1 177.2,842.8 174.5,868.7 172.0,865.6 167.9,856.2 163.8,861.4 160.6,856.2 157.5,857.3 154.4,853.1 151.3,860.4 147.2,841.7 142.0,840.7 138.9,863.5 135.8,851.1 132.7,851.1 128.5,843.8 125.4,857.3 122.3,843.8 119.2,853.1 116.1,848.0 111.9,842.8 107.8,848.0 103.7,836.6 99.5,844.8 96.4,829.3 93.3,855.2 90.2,838.6 88.1,832.4" fill="#c64e5c" fill-opacity="0.68" stroke="#c64e5c" stroke-opacity="0.68" stroke-width="0.01" stroke-linejoin="round"/><polyline points="88.1,780.6 90.2,781.6 93.3,777.5 97.4,779.6 101.6,774.4 105.7,778.5 108.8,773.3 111.9,776.5 116.1,775.4 120.2,774.4 123.3,782.7 126.5,784.7 129.6,779.6 132.7,778.5 136.8,781.6 141.0,780.6 145.1,778.5 148.2,776.5 151.3,775.4 154.4,784.7 158.6,781.6 163.8,784.7 167.9,781.6 172.0,784.7 176.2,785.8 180.0,778.5 180.3,778.5 184.1,779.6 188.3,784.7 192.4,778.5 196.6,783.7 200.7,778.5 204.9,780.6 209.0,776.5 213.2,774.4 217.3,776.5 221.5,767.1 224.6,774.4 228.7,775.4 231.8,774.4 236.0,773.3 240.1,775.4 244.2,773.3 248.4,775.4 251.5,779.6 254.6,775.4 258.8,766.1 262.9,766.1 267.0,774.4 271.2,772.3 275.0,776.5 275.3,771.3 279.1,776.5 283.3,780.6 287.4,778.5 291.6,782.7 295.7,781.6 299.9,776.5 304.0,778.5 308.2,772.3 311.3,774.4 315.4,786.8 319.6,791.0 323.7,786.8 327.8,793.0 332.0,793.0 336.1,792.0 340.3,793.0 344.4,795.1 348.6,793.0 352.7,791.0 356.9,797.2 361.0,805.5 365.2,809.6 369.3,813.8 370.0,813.8 374.1,811.7 378.3,810.6 382.4,817.9 386.6,813.8 390.7,820.0 393.8,817.9 396.9,809.6 400.1,817.9 403.2,813.8 407.3,828.3 410.4,806.5 413.5,809.6 416.6,805.5 420.8,815.8 423.9,812.7 427.0,828.3 431.1,828.3 436.3,825.2 440.5,834.5 444.6,836.6 448.8,840.7 452.9,851.1 456.0,846.9 459.1,842.8 463.3,844.8 465.0,854.6 466.6,852.2 469.0,848.2 472.2,867.4 475.4,859.4 478.6,869.1 481.9,865.8 485.1,863.4 489.1,875.5 491.5,873.9 494.7,888.3 497.9,881.9 501.6,872.3 505.1,889.9 507.6,889.1 510.8,878.7 514.8,873.9 517.2,902.8 520.4,899.6 523.6,902.8 527.6,894.7 530.8,906.0 534.1,898.0 537.3,902.8 540.5,909.2 543.7,898.0 546.9,915.6 550.1,918.0 553.3,918.8 556.5,911.6 559.7,918.0 563.4,913.5 566.7,917.2 569.2,918.8 572.6,918.0 575.9,920.5 579.3,918.8 582.7,922.2 586.0,920.5 588.9,915.5 591.9,922.2 595.3,920.5 598.6,923.0 603.6,923.4 607.0,923.9 611.2,922.7 615.4,923.9 619.6,924.7 624.6,922.2 628.0,924.7 632.2,924.4 637.2,924.4 642.3,924.7 645.6,927.2 650.7,923.0 654.0,927.6 659.1,926.9 664.1,927.2 667.4,926.9 670.8,926.4 677.5,926.4" fill="none" stroke="#c64e5c" stroke-width="1.25" stroke-opacity="0.82" stroke-linejoin="round"/><polyline points="88.1,832.4 90.2,838.6 93.3,855.2 96.4,829.3 99.5,844.8 103.7,836.6 107.8,848.0 111.9,842.8 116.1,848.0 119.2,853.1 122.3,843.8 125.4,857.3 128.5,843.8 132.7,851.1 135.8,851.1 138.9,863.5 142.0,840.7 147.2,841.7 151.3,860.4 154.4,853.1 157.5,857.3 160.6,856.2 163.8,861.4 167.9,856.2 172.0,865.6 174.5,868.7 177.2,842.8 180.0,851.1 180.3,850.0 183.1,840.7 186.2,842.8 189.3,845.9 192.4,840.7 196.6,846.9 199.7,849.0 202.8,848.0 205.9,839.7 209.0,844.8 213.2,852.1 216.3,838.6 219.4,851.1 222.5,867.6 225.6,844.8 229.7,849.0 232.8,836.6 236.0,826.2 239.1,844.8 242.2,838.6 246.3,832.4 250.5,828.3 253.6,828.3 256.7,820.0 259.8,828.3 262.9,834.5 267.0,830.3 271.2,834.5 275.0,844.8 275.3,842.8 279.1,846.9 284.3,859.4 288.5,842.8 292.6,842.8 296.8,846.9 299.9,855.2 304.0,873.9 307.1,857.3 310.2,855.2 313.3,851.1 317.5,865.6 320.6,859.4 323.7,848.0 326.8,853.1 329.9,846.9 333.0,853.1 337.2,867.6 341.3,896.7 346.5,896.7 349.6,892.5 353.8,898.7 357.9,902.9 362.0,907.0 366.2,909.1 370.0,907.0 370.3,913.2 374.1,909.1 378.3,915.3 382.4,917.4 386.6,913.2 390.7,915.3 394.9,917.4 399.0,913.2 403.2,913.2 407.3,909.1 411.5,911.2 415.6,909.1 419.7,911.2 423.9,909.1 428.0,913.2 432.2,917.4 436.3,919.5 440.5,919.5 444.6,917.4 448.8,921.5 452.9,923.6 457.0,925.7 461.2,925.7 465.3,925.7 468.0,929.5 680.0,929.5" fill="none" stroke="#c64e5c" stroke-width="1.25" stroke-opacity="0.82" stroke-linejoin="round"/><polyline points="88.1,807.5 93.3,810.6 97.4,805.5 101.6,806.5 105.7,807.5 109.9,809.6 114.0,810.6 118.2,809.6 122.3,811.7 126.5,811.7 130.6,811.7 134.7,809.6 138.9,809.6 143.0,810.6 147.2,811.7 151.3,813.8 155.5,812.7 159.6,811.7 163.8,812.7 167.9,812.7 172.0,811.7 176.2,812.7 180.0,812.7 180.3,812.7 184.1,812.7 188.3,811.7 192.4,810.6 196.6,808.6 200.7,806.5 204.9,807.5 209.0,809.6 213.2,810.6 217.3,809.6 221.5,807.5 225.6,805.5 229.7,803.4 233.9,801.3 238.0,802.4 242.2,802.4 246.3,802.4 250.5,801.3 254.6,802.4 258.8,803.4 262.9,803.4 267.0,802.4 271.2,803.4 275.0,805.5 275.3,805.5 279.1,807.5 283.3,810.6 287.4,809.6 291.6,808.6 295.7,807.5 299.9,809.6 304.0,811.7 308.2,814.8 312.3,816.9 316.5,820.0 320.6,822.0 324.7,817.9 328.9,820.0 333.0,826.2 337.2,830.3 341.3,834.5 345.5,838.6 349.6,842.8 353.8,846.9 357.9,851.1 362.0,857.3 366.2,861.4 370.0,863.5 370.3,864.5 374.1,865.6 378.3,867.6 382.4,870.8 386.6,869.7 390.7,867.6 394.9,865.6 399.0,864.5 403.2,865.6 407.3,863.5 411.5,862.5 415.6,864.5 419.7,867.6 423.9,871.8 428.0,873.9 432.2,878.0 436.3,880.1 440.5,882.2 444.6,884.2 448.8,888.4 452.9,892.5 457.0,896.7 461.2,900.8 465.0,902.8 465.3,902.9 469.8,903.6 474.6,906.0 479.5,909.2 484.3,910.8 489.1,913.2 493.9,914.8 498.7,916.4 503.5,918.0 508.4,918.8 513.2,919.6 518.0,920.4 522.8,921.2 527.6,922.0 532.4,922.8 537.3,923.6 542.1,924.5 546.9,924.8 553.3,924.9 560.0,925.5 561.4,925.3 576.8,926.4 593.6,926.9 610.4,927.6 627.2,927.6 643.9,927.7 670.8,928.1 677.5,928.1" fill="none" stroke="#c3424f" stroke-width="1.6" stroke-opacity="1" stroke-linejoin="round"/><polygon points="88.1,800.2 91.2,797.1 94.3,799.7 97.4,806.5 101.6,804.2 104.7,798.4 107.8,803.1 111.9,812.4 115.7,818.9 118.2,817.5 122.3,814.7 125.4,801.2 128.5,788.6 131.6,800.2 134.7,796.6 137.8,806.6 142.0,815.1 145.1,807.2 148.2,803.7 151.3,819.7 155.5,816.4 159.6,807.3 163.8,829.7 167.9,816.5 172.0,809.3 176.2,813.0 180.0,822.2 180.3,829.1 183.1,817.8 186.2,809.3 190.4,822.0 194.5,814.1 198.7,807.2 202.8,799.3 206.9,812.1 210.1,816.0 213.2,810.3 217.3,805.6 221.5,810.0 225.6,797.3 229.7,812.4 233.9,810.5 237.0,798.1 241.1,800.6 245.3,802.7 249.4,817.7 253.6,821.9 257.7,826.5 260.8,822.6 265.0,829.5 269.1,817.5 273.3,825.1 275.0,827.5 277.4,813.2 279.1,821.7 283.3,820.5 286.4,818.9 290.5,828.7 294.7,810.9 298.8,823.2 303.0,809.9 306.1,805.2 309.2,816.2 312.3,834.7 316.5,827.2 320.6,825.5 324.7,815.2 328.9,820.7 333.0,827.3 337.2,829.5 341.3,833.8 344.4,827.8 347.5,843.0 350.6,842.3 353.8,848.2 356.9,841.8 360.0,835.5 362.0,846.0 365.2,852.1 368.3,858.9 370.0,857.8 371.4,854.6 372.1,838.5 375.2,859.0 379.3,849.5 382.4,861.5 385.5,850.3 388.7,864.8 392.8,867.0 395.9,871.1 399.0,874.7 401.1,880.1 403.2,888.3 406.3,871.7 409.4,867.0 412.5,891.8 414.6,903.4 417.7,897.1 420.8,902.2 423.9,886.1 428.0,878.0 431.1,873.7 434.2,889.3 438.4,885.7 442.5,867.4 445.6,886.6 449.8,894.6 452.9,899.0 456.0,909.9 459.1,909.5 463.3,913.7 465.0,910.5 466.4,916.5 468.2,912.2 470.6,920.8 473.0,923.1 477.0,921.9 481.1,924.1 485.9,924.2 491.5,918.4 495.5,924.4 501.9,926.2 513.2,926.6 517.2,920.8 520.4,926.7 529.2,926.9 575.0,927.4 680.0,927.6 680.0,929.3 575.0,929.3 529.2,929.3 520.4,929.3 517.2,926.5 513.2,929.3 501.9,929.3 495.5,929.3 491.5,927.3 485.9,929.3 481.1,929.3 477.0,928.6 473.0,929.3 470.6,928.1 468.2,925.5 466.4,929.3 465.0,923.9 463.3,925.3 459.1,921.1 456.0,924.9 452.9,910.9 449.8,907.0 445.6,898.4 442.5,888.6 438.4,899.3 434.2,908.1 431.1,890.6 428.0,894.6 423.9,898.9 420.8,920.1 417.7,908.7 414.6,923.1 412.5,905.7 409.4,889.0 406.3,888.5 403.2,909.2 401.1,892.5 399.0,885.4 395.9,880.7 392.8,876.6 388.7,874.7 385.5,864.2 382.4,873.7 379.3,860.9 375.2,872.1 372.1,855.3 371.4,864.1 370.0,869.2 368.3,872.2 365.2,862.5 362.0,856.1 360.0,850.0 356.9,852.0 353.8,862.2 350.6,851.6 347.5,854.9 344.4,841.2 341.3,843.4 337.2,839.4 333.0,837.5 328.9,831.7 324.7,828.9 320.6,835.1 316.5,837.6 312.3,855.0 309.2,827.9 306.1,822.3 303.0,821.8 298.8,837.4 294.7,824.9 290.5,844.4 286.4,829.3 283.3,831.9 279.1,830.7 277.4,826.8 275.0,841.4 273.3,835.6 269.1,826.6 265.0,839.5 260.8,829.8 257.7,834.2 253.6,830.5 249.4,826.4 245.3,812.4 241.1,810.4 237.0,808.7 233.9,821.2 229.7,823.4 225.6,809.4 221.5,817.5 217.3,813.6 213.2,817.2 210.1,828.1 206.9,819.6 202.8,811.7 198.7,816.1 194.5,821.7 190.4,834.5 186.2,820.3 183.1,826.3 180.3,844.1 180.0,830.1 176.2,822.8 172.0,822.3 167.9,823.4 163.8,847.6 159.6,820.2 155.5,823.6 151.3,832.7 148.2,815.5 145.1,816.1 142.0,829.0 137.8,812.6 134.7,806.1 131.6,806.5 128.5,801.6 125.4,809.8 122.3,825.3 118.2,826.6 115.7,829.3 111.9,819.3 107.8,812.0 104.7,808.4 101.6,810.8 97.4,816.9 94.3,807.1 91.2,805.6 88.1,806.6" fill="#3c80be" fill-opacity="0.66" stroke="#3c80be" stroke-opacity="0.66" stroke-width="0.01" stroke-linejoin="round"/></g>
<g stroke="#b9b9b9" stroke-width="1.1"><line x1="152.56" y1="740.5" x2="152.56" y2="929.5"/><line x1="217.41" y1="740.5" x2="217.41" y2="929.5"/><line x1="282.27" y1="740.5" x2="282.27" y2="929.5"/><line x1="347.12" y1="740.5" x2="347.12" y2="929.5"/><line x1="411.98" y1="740.5" x2="411.98" y2="929.5"/><line x1="476.83" y1="740.5" x2="476.83" y2="929.5"/><line x1="541.69" y1="740.5" x2="541.69" y2="929.5"/><line x1="606.54" y1="740.5" x2="606.54" y2="929.5"/><line x1="87.7" y1="891.70" x2="671.4" y2="891.70"/><line x1="87.7" y1="853.90" x2="671.4" y2="853.90"/><line x1="87.7" y1="816.10" x2="671.4" y2="816.10"/><line x1="87.7" y1="778.30" x2="671.4" y2="778.30"/></g>
<g clip-path="url(#clipd)"><polyline points="88.1,800.2 91.2,797.1 94.3,799.7 97.4,806.5 101.6,804.2 104.7,798.4 107.8,803.1 111.9,812.4 115.7,818.9 118.2,817.5 122.3,814.7 125.4,801.2 128.5,788.6 131.6,800.2 134.7,796.6 137.8,806.6 142.0,815.1 145.1,807.2 148.2,803.7 151.3,819.7 155.5,816.4 159.6,807.3 163.8,829.7 167.9,816.5 172.0,809.3 176.2,813.0 180.0,822.2 180.3,829.1 183.1,817.8 186.2,809.3 190.4,822.0 194.5,814.1 198.7,807.2 202.8,799.3 206.9,812.1 210.1,816.0 213.2,810.3 217.3,805.6 221.5,810.0 225.6,797.3 229.7,812.4 233.9,810.5 237.0,798.1 241.1,800.6 245.3,802.7 249.4,817.7 253.6,821.9 257.7,826.5 260.8,822.6 265.0,829.5 269.1,817.5 273.3,825.1 275.0,827.5 277.4,813.2 279.1,821.7 283.3,820.5 286.4,818.9 290.5,828.7 294.7,810.9 298.8,823.2 303.0,809.9 306.1,805.2 309.2,816.2 312.3,834.7 316.5,827.2 320.6,825.5 324.7,815.2 328.9,820.7 333.0,827.3 337.2,829.5 341.3,833.8 344.4,827.8 347.5,843.0 350.6,842.3 353.8,848.2 356.9,841.8 360.0,835.5 362.0,846.0 365.2,852.1 368.3,858.9 370.0,857.8 371.4,854.6 372.1,838.5 375.2,859.0 379.3,849.5 382.4,861.5 385.5,850.3 388.7,864.8 392.8,867.0 395.9,871.1 399.0,874.7 401.1,880.1 403.2,888.3 406.3,871.7 409.4,867.0 412.5,891.8 414.6,903.4 417.7,897.1 420.8,902.2 423.9,886.1 428.0,878.0 431.1,873.7 434.2,889.3 438.4,885.7 442.5,867.4 445.6,886.6 449.8,894.6 452.9,899.0 456.0,909.9 459.1,909.5 463.3,913.7 465.0,910.5 466.4,916.5 468.2,912.2 470.6,920.8 473.0,923.1 477.0,921.9 481.1,924.1 485.9,924.2 491.5,918.4 495.5,924.4 501.9,926.2 513.2,926.6 517.2,920.8 520.4,926.7 529.2,926.9 575.0,927.4 680.0,927.6" fill="none" stroke="#3d7fbd" stroke-width="1.0" stroke-opacity="0.55" stroke-linejoin="round"/><polyline points="88.1,806.6 91.2,805.6 94.3,807.1 97.4,816.9 101.6,810.8 104.7,808.4 107.8,812.0 111.9,819.3 115.7,829.3 118.2,826.6 122.3,825.3 125.4,809.8 128.5,801.6 131.6,806.5 134.7,806.1 137.8,812.6 142.0,829.0 145.1,816.1 148.2,815.5 151.3,832.7 155.5,823.6 159.6,820.2 163.8,847.6 167.9,823.4 172.0,822.3 176.2,822.8 180.0,830.1 180.3,844.1 183.1,826.3 186.2,820.3 190.4,834.5 194.5,821.7 198.7,816.1 202.8,811.7 206.9,819.6 210.1,828.1 213.2,817.2 217.3,813.6 221.5,817.5 225.6,809.4 229.7,823.4 233.9,821.2 237.0,808.7 241.1,810.4 245.3,812.4 249.4,826.4 253.6,830.5 257.7,834.2 260.8,829.8 265.0,839.5 269.1,826.6 273.3,835.6 275.0,841.4 277.4,826.8 279.1,830.7 283.3,831.9 286.4,829.3 290.5,844.4 294.7,824.9 298.8,837.4 303.0,821.8 306.1,822.3 309.2,827.9 312.3,855.0 316.5,837.6 320.6,835.1 324.7,828.9 328.9,831.7 333.0,837.5 337.2,839.4 341.3,843.4 344.4,841.2 347.5,854.9 350.6,851.6 353.8,862.2 356.9,852.0 360.0,850.0 362.0,856.1 365.2,862.5 368.3,872.2 370.0,869.2 371.4,864.1 372.1,855.3 375.2,872.1 379.3,860.9 382.4,873.7 385.5,864.2 388.7,874.7 392.8,876.6 395.9,880.7 399.0,885.4 401.1,892.5 403.2,909.2 406.3,888.5 409.4,889.0 412.5,905.7 414.6,923.1 417.7,908.7 420.8,920.1 423.9,898.9 428.0,894.6 431.1,890.6 434.2,908.1 438.4,899.3 442.5,888.6 445.6,898.4 449.8,907.0 452.9,910.9 456.0,924.9 459.1,921.1 463.3,925.3 465.0,923.9 466.4,929.3 468.2,925.5 470.6,928.1 473.0,929.3 477.0,928.6 481.1,929.3 485.9,929.3 491.5,927.3 495.5,929.3 501.9,929.3 513.2,929.3 517.2,926.5 520.4,929.3 529.2,929.3 575.0,929.3 680.0,929.3" fill="none" stroke="#3d7fbd" stroke-width="1.0" stroke-opacity="0.55" stroke-linejoin="round"/><polyline points="88.1,803.4 91.2,801.3 94.3,803.4 97.4,811.7 101.6,807.5 104.7,803.4 107.8,807.5 111.9,815.8 115.7,824.1 118.2,822.0 122.3,820.0 125.4,805.5 128.5,795.1 131.6,803.4 134.7,801.3 137.8,809.6 142.0,822.0 145.1,811.7 148.2,809.6 151.3,826.2 155.5,820.0 159.6,813.8 163.8,838.6 167.9,820.0 172.0,815.8 176.2,817.9 180.0,826.2 180.3,836.6 183.1,822.0 186.2,814.8 190.4,828.3 194.5,817.9 198.7,811.7 202.8,805.5 206.9,815.8 210.1,822.0 213.2,813.8 217.3,809.6 221.5,813.8 225.6,803.4 229.7,817.9 233.9,815.8 237.0,803.4 241.1,805.5 245.3,807.5 249.4,822.0 253.6,826.2 257.7,830.3 260.8,826.2 265.0,834.5 269.1,822.0 273.3,830.3 275.0,834.5 277.4,820.0 279.1,826.2 283.3,826.2 286.4,824.1 290.5,836.6 294.7,817.9 298.8,830.3 303.0,815.8 306.1,813.8 309.2,822.0 312.3,844.8 316.5,832.4 320.6,830.3 324.7,822.0 328.9,826.2 333.0,832.4 337.2,834.5 341.3,838.6 344.4,834.5 347.5,849.0 350.6,846.9 353.8,855.2 356.9,846.9 360.0,842.8 362.0,851.1 365.2,857.3 368.3,865.6 370.0,863.5 371.4,859.4 372.1,846.9 375.2,865.6 379.3,855.2 382.4,867.6 385.5,857.3 388.7,869.7 392.8,871.8 395.9,875.9 399.0,880.1 401.1,886.3 403.2,898.7 406.3,880.1 409.4,878.0 412.5,898.7 414.6,913.2 417.7,902.9 420.8,911.2 423.9,892.5 428.0,886.3 431.1,882.2 434.2,898.7 438.4,892.5 442.5,878.0 445.6,892.5 449.8,900.8 452.9,904.9 456.0,917.4 459.1,915.3 463.3,919.5 465.0,917.2 466.4,923.6 468.2,918.8 470.6,924.5 473.0,926.9 477.0,925.3 481.1,927.7 485.9,927.7 491.5,922.8 495.5,927.7 501.9,928.5 513.2,928.5 517.2,923.6 520.4,928.5 529.2,928.8 575.0,928.9 680.0,929.2" fill="none" stroke="#3d7fbd" stroke-width="1.4" stroke-opacity="0.9" stroke-linejoin="round"/><polyline points="88.1,771.3 91.2,774.4 94.3,780.6 97.4,788.9 102.6,804.4 105.7,799.2 109.9,796.1 113.0,798.2 116.1,791.0 119.2,786.8 122.3,785.8 126.5,801.3 128.9,802.4 131.6,789.9 135.8,786.8 138.9,784.7 142.0,789.9 145.1,788.5 148.2,797.2 151.3,799.2 155.5,798.2 158.6,800.3 161.7,822.0 164.8,803.4 167.9,785.8 171.0,813.8 174.1,807.5 177.2,799.2 180.0,799.2 181.4,799.2 183.1,796.1 187.3,803.4 190.4,795.1 193.5,801.3 196.6,788.9 199.7,779.6 203.8,795.1 206.9,797.2 210.1,786.8 213.2,776.5 216.3,782.7 219.4,776.5 222.5,791.0 225.6,791.0 229.7,784.7 232.8,783.7 236.0,789.9 239.1,783.7 242.2,786.8 246.3,795.1 249.4,788.9 252.5,807.5 255.6,797.2 258.8,804.4 261.9,785.8 265.0,788.9 268.1,793.0 271.2,784.7 274.3,766.1 275.0,766.1 277.4,778.5 278.1,779.6 281.2,782.7 284.3,780.6 287.4,784.7 290.5,805.5 293.7,788.9 296.8,791.0 299.9,799.2 303.0,799.2 306.1,788.9 309.2,801.3 312.3,809.6 315.4,798.2 318.5,795.1 321.6,801.3 325.8,807.5 328.9,788.9 333.0,784.7 336.1,801.3 339.2,801.3 342.4,780.6 345.5,784.7 349.6,770.2 353.8,793.0 357.9,805.5 362.0,805.5 366.2,802.4 370.0,807.5 370.3,808.6 374.1,807.5 378.3,795.1 381.4,815.8 384.5,817.9 387.6,813.8 390.7,838.6 394.9,840.7 399.0,851.1 402.1,851.1 404.2,861.4 407.3,853.1 410.4,857.3 413.5,849.0 416.6,861.4 419.7,855.2 422.8,878.0 426.0,848.0 429.1,871.8 432.2,878.0 436.3,873.9 439.4,886.3 442.5,872.8 445.6,884.2 449.8,899.8 452.9,900.8 456.0,878.0 459.1,907.0 462.2,909.1 466.4,913.2 469.0,910.0 473.0,912.4 477.0,915.6 479.5,922.0 481.9,909.2 485.6,898.8 488.8,918.0 492.3,906.0 495.2,900.4 497.9,920.4 501.6,899.6 504.3,914.0 508.4,922.8 512.4,918.8 518.0,909.2 521.2,915.6 524.4,921.2 527.6,921.2 530.8,922.0 534.1,897.2 537.3,910.8 540.5,924.5 543.7,926.9 548.5,926.1 554.9,926.5 560.0,926.4 563.4,927.2 566.7,926.4 570.1,927.6 573.4,927.6 578.5,926.9 581.8,928.1 593.6,928.4 610.4,928.4 614.6,927.2 617.1,928.6 620.4,929.4 670.8,929.6 677.5,929.6" fill="none" stroke="#66dcea" stroke-width="1.4" stroke-opacity="1" stroke-linejoin="round"/><polyline points="281.2,788.9 284.3,774.4 287.4,783.7 290.5,782.7 294.7,778.5 298.8,784.7 300.9,787.8 304.0,778.5 308.2,779.6 311.3,779.6 314.4,793.0 317.5,803.4 320.6,797.2 323.7,779.6 326.8,797.2 329.9,786.8 333.0,807.5 336.1,774.4 340.3,796.1 344.4,799.2 348.6,803.4 352.7,797.2 355.8,809.6 360.0,808.6 363.1,812.7 365.2,817.9 368.3,811.7 370.0,820.0 371.4,842.8 372.1,842.8 375.2,832.4 378.3,822.0 381.4,828.3 384.5,836.6 387.6,856.2 390.7,823.1 393.8,824.1 396.9,834.5 400.1,832.4 403.2,832.4 407.3,832.4 410.4,840.7 413.5,846.9 417.7,828.3 420.8,830.3 423.9,841.7" fill="none" stroke="#000" stroke-width="1.4" stroke-opacity="1" stroke-linejoin="round"/></g>
<rect x="87.7" y="740.5" width="583.6999999999999" height="189.0" fill="none" stroke="#000" stroke-width="1.1"/>
<g stroke="#000" stroke-width="1.1"><line x1="87.70" y1="929.5" x2="87.70" y2="934.40"/><line x1="152.56" y1="929.5" x2="152.56" y2="934.40"/><line x1="217.41" y1="929.5" x2="217.41" y2="934.40"/><line x1="282.27" y1="929.5" x2="282.27" y2="934.40"/><line x1="347.12" y1="929.5" x2="347.12" y2="934.40"/><line x1="411.98" y1="929.5" x2="411.98" y2="934.40"/><line x1="476.83" y1="929.5" x2="476.83" y2="934.40"/><line x1="541.69" y1="929.5" x2="541.69" y2="934.40"/><line x1="606.54" y1="929.5" x2="606.54" y2="934.40"/><line x1="671.40" y1="929.5" x2="671.40" y2="934.40"/><line x1="82.80" y1="929.50" x2="87.7" y2="929.50"/><line x1="82.80" y1="891.70" x2="87.7" y2="891.70"/><line x1="82.80" y1="853.90" x2="87.7" y2="853.90"/><line x1="82.80" y1="816.10" x2="87.7" y2="816.10"/><line x1="82.80" y1="778.30" x2="87.7" y2="778.30"/><line x1="82.80" y1="740.50" x2="87.7" y2="740.50"/></g>
<g fill="#000"><text x="87.70" y="947.70" text-anchor="middle" textLength="25.19" lengthAdjust="spacingAndGlyphs" >1920</text><text x="152.56" y="947.70" text-anchor="middle" textLength="25.19" lengthAdjust="spacingAndGlyphs" >1940</text><text x="217.41" y="947.70" text-anchor="middle" textLength="25.19" lengthAdjust="spacingAndGlyphs" >1960</text><text x="282.27" y="947.70" text-anchor="middle" textLength="25.19" lengthAdjust="spacingAndGlyphs" >1980</text><text x="347.12" y="947.70" text-anchor="middle" textLength="25.19" lengthAdjust="spacingAndGlyphs" >2000</text><text x="411.98" y="947.70" text-anchor="middle" textLength="25.19" lengthAdjust="spacingAndGlyphs" >2020</text><text x="476.83" y="947.70" text-anchor="middle" textLength="25.19" lengthAdjust="spacingAndGlyphs" >2040</text><text x="541.69" y="947.70" text-anchor="middle" textLength="25.19" lengthAdjust="spacingAndGlyphs" >2060</text><text x="606.54" y="947.70" text-anchor="middle" textLength="25.19" lengthAdjust="spacingAndGlyphs" >2080</text><text x="671.40" y="947.70" text-anchor="middle" textLength="25.19" lengthAdjust="spacingAndGlyphs" >2100</text><text x="77.20" y="933.70" text-anchor="end" textLength="22.04" lengthAdjust="spacingAndGlyphs" >0.00</text><text x="77.20" y="895.90" text-anchor="end" textLength="22.04" lengthAdjust="spacingAndGlyphs" >2.00</text><text x="77.20" y="858.10" text-anchor="end" textLength="22.04" lengthAdjust="spacingAndGlyphs" >4.00</text><text x="77.20" y="820.30" text-anchor="end" textLength="22.04" lengthAdjust="spacingAndGlyphs" >6.00</text><text x="77.20" y="782.50" text-anchor="end" textLength="22.04" lengthAdjust="spacingAndGlyphs" >8.00</text><text x="77.20" y="744.70" text-anchor="end" textLength="28.34" lengthAdjust="spacingAndGlyphs" >10.00</text><text x="93.80" y="753.70" text-anchor="start" textLength="65.19" lengthAdjust="spacingAndGlyphs" font-size="10.6" >d) Pan-Arctic</text></g>
<line x1="87.7" y1="910.1" x2="671.4" y2="910.1" stroke="#000" stroke-width="1.75" stroke-dasharray="5.3,2.5"/>
<rect x="564.6" y="745.20" width="101.1" height="63.60" rx="2.2" fill="#fff" fill-opacity="0.8" stroke="#cccccc" stroke-width="1"/><line x1="568.3" y1="754.00" x2="590.2" y2="754.00" stroke="#3874b2" stroke-width="1.4"/><g fill="#000"><text x="597.90" y="757.70" text-anchor="start" textLength="63.50" lengthAdjust="spacingAndGlyphs" font-size="10.6" >CESM1.3-HR</text></g><line x1="568.3" y1="769.15" x2="590.2" y2="769.15" stroke="#66dcea" stroke-width="1.4"/><g fill="#000"><text x="597.90" y="772.85" text-anchor="start" textLength="61.51" lengthAdjust="spacingAndGlyphs" font-size="10.6" >CESM1.3-LR</text></g><line x1="568.3" y1="784.30" x2="590.2" y2="784.30" stroke="#c64e5c" stroke-width="1.4"/><g fill="#000"><text x="597.90" y="788.00" text-anchor="start" textLength="51.14" lengthAdjust="spacingAndGlyphs" font-size="10.6" >CESM2-LE</text></g><line x1="568.3" y1="799.45" x2="590.2" y2="799.45" stroke="#000" stroke-width="1.4"/><g fill="#000"><text x="597.90" y="803.15" text-anchor="start" textLength="22.06" lengthAdjust="spacingAndGlyphs" font-size="10.6" >CDR</text></g>
<g fill="#000"><text x="379.50" y="963.60" text-anchor="middle" textLength="24.96" lengthAdjust="spacingAndGlyphs" font-size="10.8" >Time</text></g>
<g transform="translate(11.0,550.5) rotate(-90)" fill="#000"><text x="0" y="0" font-size="10.6" textLength="141" lengthAdjust="spacingAndGlyphs">September sea ice extent (</text><text x="141.6" y="0" font-size="10.6" textLength="13.0" lengthAdjust="spacingAndGlyphs">10</text><text x="155.0" y="-3.9" font-size="7.4">6</text><text x="160.2" y="0" font-size="10.6" font-style="italic" textLength="13.8" lengthAdjust="spacingAndGlyphs">km</text><text x="174.4" y="-3.9" font-size="7.4">2</text><text x="179.6" y="0" font-size="10.6">)</text></g>
</svg>
</body></html>
